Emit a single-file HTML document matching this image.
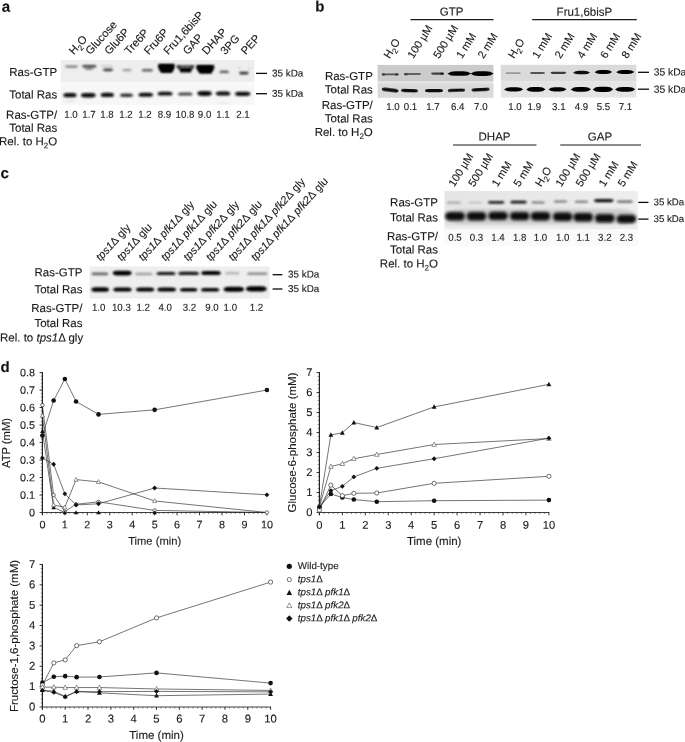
<!DOCTYPE html>
<html lang="en"><head><meta charset="utf-8"><title>Figure</title>
<style>
html,body{margin:0;padding:0;background:#fff;}
svg{display:block;}
text{font-family:'Liberation Sans', Arial, Helvetica, sans-serif;stroke:#1a1a1a;stroke-width:0.12px;}
</style></head>
<body>
<svg width="685" height="742" viewBox="0 0 685 742">
<defs>
<linearGradient id="gb" x1="0" x2="1" y1="0" y2="0"><stop offset="0" stop-color="#e5e5e5"/><stop offset="0.6" stop-color="#e9e9e9"/><stop offset="1" stop-color="#efefef"/></linearGradient>
<filter id="b1" x="-20%" y="-100%" width="140%" height="300%"><feGaussianBlur stdDeviation="1.0"/></filter>
<filter id="b07" x="-20%" y="-100%" width="140%" height="300%"><feGaussianBlur stdDeviation="0.75"/></filter>
<filter id="b09" x="-20%" y="-100%" width="140%" height="300%"><feGaussianBlur stdDeviation="0.9"/></filter>
<filter id="b15" x="-20%" y="-50%" width="140%" height="200%"><feGaussianBlur stdDeviation="1.4"/></filter>
</defs>
<rect width="685" height="742" fill="#ffffff"/>
<text x="0" y="0" transform="translate(1.70 11.80) rotate(0.04)" font-size="15.2" text-anchor="start" font-weight="bold" font-style="normal" fill="#111" >a</text>
<text x="0" y="0" transform="translate(315.30 11.50) rotate(0.04)" font-size="15" text-anchor="start" font-weight="bold" font-style="normal" fill="#111" >b</text>
<text x="0" y="0" transform="translate(0.60 178.30) rotate(0.04)" font-size="15.2" text-anchor="start" font-weight="bold" font-style="normal" fill="#111" >c</text>
<text x="0" y="0" transform="translate(0.50 372.10) rotate(0.04)" font-size="15" text-anchor="start" font-weight="bold" font-style="normal" fill="#111" >d</text>
<text x="0" y="0" transform="translate(57.20 76.00) rotate(0.04)" font-size="11.5" text-anchor="end" font-weight="normal" font-style="normal" fill="#1a1a1a" >Ras-GTP</text>
<text x="0" y="0" transform="translate(57.20 98.50) rotate(0.04)" font-size="11.5" text-anchor="end" font-weight="normal" font-style="normal" fill="#1a1a1a" >Total Ras</text>
<text x="0" y="0" transform="translate(57.20 118.70) rotate(0.04)" font-size="11.5" text-anchor="end" font-weight="normal" font-style="normal" fill="#1a1a1a" >Ras-GTP/</text>
<text x="0" y="0" transform="translate(57.20 131.80) rotate(0.04)" font-size="11.5" text-anchor="end" font-weight="normal" font-style="normal" fill="#1a1a1a" >Total Ras</text>
<text x="0" y="0" transform="translate(57.20 145.30) rotate(0.04)" font-size="11.5" text-anchor="end" font-weight="normal" font-style="normal" fill="#1a1a1a" >Rel. to H<tspan font-size="8.0" dy="3.0">2</tspan><tspan dy="-3.0">O</tspan></text>
<rect x="60.60" y="60.00" width="193.80" height="22.00" fill="#eeeeee" />
<rect x="60.60" y="82.00" width="193.80" height="2.50" fill="#f9f9f9" />
<rect x="60.60" y="84.50" width="193.80" height="20.30" fill="#f7f7f7" />
<rect x="65.00" y="65.50" width="13.00" height="2.20" rx="2.20" ry="1.10" fill="#666" opacity="0.85" filter="url(#b09)"/>
<rect x="82.00" y="65.00" width="14.50" height="2.40" rx="2.40" ry="1.20" fill="#333" opacity="0.95" filter="url(#b09)"/>
<rect x="85.00" y="67.60" width="8.00" height="2.00" rx="2.00" ry="1.00" fill="#444" opacity="0.85" filter="url(#b09)"/>
<rect x="101.00" y="65.60" width="12.00" height="1.20" rx="1.20" ry="0.60" fill="#999" opacity="0.6" filter="url(#b09)"/>
<rect x="103.00" y="68.50" width="10.00" height="2.80" rx="2.80" ry="1.40" fill="#333" opacity="0.95" filter="url(#b09)"/>
<rect x="122.40" y="69.10" width="9.20" height="2.20" rx="2.20" ry="1.10" fill="#888" opacity="0.85" filter="url(#b09)"/>
<rect x="141.60" y="69.00" width="11.40" height="2.40" rx="2.40" ry="1.20" fill="#555" opacity="0.95" filter="url(#b09)"/>
<path d="M158.20 64.00 L174.60 64.00 L174.80 67.60 L172.00 72.80 L161.00 72.80 L158.00 67.60 Z" fill="#000" opacity="1.0" filter="url(#b09)"/>
<path d="M159.50 64.80 L173.50 64.80 L171.50 71.80 L161.50 71.80 Z" fill="#000" opacity="1.0" filter="url(#b09)"/>
<rect x="176.50" y="65.40" width="17.50" height="1.80" rx="1.80" ry="0.90" fill="#111" opacity="1" filter="url(#b09)"/>
<path d="M178.60 67.60 L192.40 67.60 L191.00 72.50 L180.40 72.50 Z" fill="#000" opacity="1.0" filter="url(#b09)"/>
<path d="M176.80 65.80 L179.50 65.80 L180.50 69.00 L178.00 69.00 Z" fill="#111" opacity="0.8" filter="url(#b09)"/>
<path d="M191.50 65.80 L194.00 65.80 L192.80 69.00 L190.50 69.00 Z" fill="#111" opacity="0.8" filter="url(#b09)"/>
<path d="M196.20 65.00 L214.20 65.00 L214.20 68.20 L211.50 73.60 L199.50 73.60 L196.20 68.20 Z" fill="#000" opacity="1.0" filter="url(#b09)"/>
<path d="M198.00 66.00 L212.50 66.00 L210.50 72.60 L200.50 72.60 Z" fill="#000" opacity="1.0" filter="url(#b09)"/>
<rect x="219.40" y="70.70" width="9.60" height="2.40" rx="2.40" ry="1.20" fill="#444" opacity="0.95" filter="url(#b09)"/>
<rect x="239.00" y="71.70" width="9.80" height="2.80" rx="2.80" ry="1.40" fill="#222" opacity="0.95" filter="url(#b09)"/>
<rect x="238.00" y="67.40" width="3.00" height="1.20" rx="1.20" ry="0.60" fill="#999" opacity="0.6" filter="url(#b09)"/>
<rect x="248.00" y="67.90" width="3.00" height="1.20" rx="1.20" ry="0.60" fill="#999" opacity="0.6" filter="url(#b09)"/>
<rect x="63.40" y="93.10" width="13.10" height="4.20" rx="4.20" ry="2.10" fill="#080808" opacity="1" filter="url(#b09)"/>
<rect x="81.00" y="93.00" width="14.60" height="4.40" rx="4.40" ry="2.20" fill="#080808" opacity="1" filter="url(#b09)"/>
<rect x="100.70" y="92.80" width="13.30" height="4.20" rx="4.20" ry="2.10" fill="#0a0a0a" opacity="1" filter="url(#b09)"/>
<rect x="120.00" y="93.50" width="13.00" height="3.40" rx="3.40" ry="1.70" fill="#333" opacity="1" filter="url(#b09)"/>
<rect x="138.50" y="92.70" width="14.50" height="4.00" rx="4.00" ry="2.00" fill="#111" opacity="1" filter="url(#b09)"/>
<rect x="157.70" y="91.80" width="14.80" height="3.80" rx="3.80" ry="1.90" fill="#111" opacity="1" filter="url(#b09)"/>
<rect x="178.00" y="92.40" width="14.50" height="3.20" rx="3.20" ry="1.60" fill="#444" opacity="1" filter="url(#b09)"/>
<rect x="197.40" y="91.10" width="14.40" height="4.80" rx="4.80" ry="2.40" fill="#111" opacity="1" filter="url(#b09)"/>
<rect x="215.80" y="91.50" width="14.50" height="4.00" rx="4.00" ry="2.00" fill="#0a0a0a" opacity="1" filter="url(#b09)"/>
<rect x="235.00" y="91.70" width="15.40" height="4.20" rx="4.20" ry="2.10" fill="#0a0a0a" opacity="1" filter="url(#b09)"/>
<rect x="65.00" y="100.80" width="10.00" height="1.00" rx="1.00" ry="0.50" fill="#bbb" opacity="0.6" filter="url(#b09)"/>
<rect x="218.00" y="102.50" width="11.00" height="1.00" rx="1.00" ry="0.50" fill="#ccc" opacity="0.6" filter="url(#b09)"/>
<line x1="256.00" y1="73.40" x2="267.00" y2="73.40" stroke="#0a0a0a" stroke-width="1.3"/>
<text x="0" y="0" transform="translate(272.00 76.50) rotate(0.04)" font-size="9.9" text-anchor="start" font-weight="normal" font-style="normal" fill="#1a1a1a" >35 kDa</text>
<line x1="256.00" y1="93.70" x2="267.00" y2="93.70" stroke="#0a0a0a" stroke-width="1.3"/>
<text x="0" y="0" transform="translate(272.00 96.70) rotate(0.04)" font-size="9.9" text-anchor="start" font-weight="normal" font-style="normal" fill="#1a1a1a" >35 kDa</text>
<text transform="translate(71.00 117.70) scale(0.97 1) rotate(0.05)" font-size="10.0" text-anchor="middle" fill="#1a1a1a" stroke-width="0.12">1.0</text>
<text transform="translate(89.00 117.70) scale(0.97 1) rotate(0.05)" font-size="10.0" text-anchor="middle" fill="#1a1a1a" stroke-width="0.12">1.7</text>
<text transform="translate(107.00 117.70) scale(0.97 1) rotate(0.05)" font-size="10.0" text-anchor="middle" fill="#1a1a1a" stroke-width="0.12">1.8</text>
<text transform="translate(126.00 117.70) scale(0.97 1) rotate(0.05)" font-size="10.0" text-anchor="middle" fill="#1a1a1a" stroke-width="0.12">1.2</text>
<text transform="translate(145.00 117.70) scale(0.97 1) rotate(0.05)" font-size="10.0" text-anchor="middle" fill="#1a1a1a" stroke-width="0.12">1.2</text>
<text transform="translate(164.50 117.70) scale(0.97 1) rotate(0.05)" font-size="10.0" text-anchor="middle" fill="#1a1a1a" stroke-width="0.12">8.9</text>
<text transform="translate(185.00 117.70) scale(0.97 1) rotate(0.05)" font-size="10.0" text-anchor="middle" fill="#1a1a1a" stroke-width="0.12">10.8</text>
<text transform="translate(204.60 117.70) scale(0.97 1) rotate(0.05)" font-size="10.0" text-anchor="middle" fill="#1a1a1a" stroke-width="0.12">9.0</text>
<text transform="translate(223.00 117.70) scale(0.97 1) rotate(0.05)" font-size="10.0" text-anchor="middle" fill="#1a1a1a" stroke-width="0.12">1.1</text>
<text transform="translate(243.00 117.70) scale(0.97 1) rotate(0.05)" font-size="10.0" text-anchor="middle" fill="#1a1a1a" stroke-width="0.12">2.1</text>
<text x="0" y="0" transform="translate(73.80 55.30) rotate(-48)" font-size="11.1" text-anchor="start" font-weight="normal" font-style="normal" fill="#1a1a1a" >H<tspan font-size="7.8" dy="2.9">2</tspan><tspan dy="-2.9">O</tspan></text>
<text x="0" y="0" transform="translate(90.30 55.30) rotate(-48)" font-size="11.1" text-anchor="start" font-weight="normal" font-style="normal" fill="#1a1a1a" >Glucose</text>
<text x="0" y="0" transform="translate(109.30 55.30) rotate(-48)" font-size="11.1" text-anchor="start" font-weight="normal" font-style="normal" fill="#1a1a1a" >Glu6P</text>
<text x="0" y="0" transform="translate(129.30 55.30) rotate(-48)" font-size="11.1" text-anchor="start" font-weight="normal" font-style="normal" fill="#1a1a1a" >Tre6P</text>
<text x="0" y="0" transform="translate(148.80 55.30) rotate(-48)" font-size="11.1" text-anchor="start" font-weight="normal" font-style="normal" fill="#1a1a1a" >Fru6P</text>
<text x="0" y="0" transform="translate(168.30 55.30) rotate(-48)" font-size="11.1" text-anchor="start" font-weight="normal" font-style="normal" fill="#1a1a1a" >Fru1,6bisP</text>
<text x="0" y="0" transform="translate(187.80 55.30) rotate(-48)" font-size="11.1" text-anchor="start" font-weight="normal" font-style="normal" fill="#1a1a1a" >GAP</text>
<text x="0" y="0" transform="translate(206.80 55.30) rotate(-48)" font-size="11.1" text-anchor="start" font-weight="normal" font-style="normal" fill="#1a1a1a" >DHAP</text>
<text x="0" y="0" transform="translate(225.30 55.30) rotate(-48)" font-size="11.1" text-anchor="start" font-weight="normal" font-style="normal" fill="#1a1a1a" >3PG</text>
<text x="0" y="0" transform="translate(245.80 55.30) rotate(-48)" font-size="11.1" text-anchor="start" font-weight="normal" font-style="normal" fill="#1a1a1a" >PEP</text>
<text x="0" y="0" transform="translate(372.80 80.00) rotate(0.04)" font-size="11.5" text-anchor="end" font-weight="normal" font-style="normal" fill="#1a1a1a" >Ras-GTP</text>
<text x="0" y="0" transform="translate(372.80 93.40) rotate(0.04)" font-size="11.5" text-anchor="end" font-weight="normal" font-style="normal" fill="#1a1a1a" >Total Ras</text>
<text x="0" y="0" transform="translate(372.80 109.10) rotate(0.04)" font-size="11.5" text-anchor="end" font-weight="normal" font-style="normal" fill="#1a1a1a" >Ras-GTP/</text>
<text x="0" y="0" transform="translate(372.80 122.40) rotate(0.04)" font-size="11.5" text-anchor="end" font-weight="normal" font-style="normal" fill="#1a1a1a" >Total Ras</text>
<text x="0" y="0" transform="translate(372.80 136.00) rotate(0.04)" font-size="11.5" text-anchor="end" font-weight="normal" font-style="normal" fill="#1a1a1a" >Rel. to H<tspan font-size="8.0" dy="3.0">2</tspan><tspan dy="-3.0">O</tspan></text>
<rect x="377.60" y="64.90" width="115.80" height="16.70" fill="#cbcbcb" />
<rect x="377.60" y="81.60" width="115.80" height="1.60" fill="#e4e4e4" />
<rect x="377.60" y="83.20" width="115.80" height="14.60" fill="#dadada" />
<rect x="381.80" y="73.50" width="16.70" height="1.80" rx="1.80" ry="0.90" fill="#444" opacity="0.9" filter="url(#b07)"/>
<rect x="381.80" y="73.20" width="3.20" height="2.40" rx="1.60" ry="1.20" fill="#333" opacity="0.9" filter="url(#b07)"/>
<rect x="395.00" y="73.20" width="3.50" height="2.40" rx="1.75" ry="1.20" fill="#333" opacity="0.9" filter="url(#b07)"/>
<rect x="404.00" y="73.10" width="17.00" height="1.80" rx="1.80" ry="0.90" fill="#555" opacity="0.9" filter="url(#b07)"/>
<rect x="404.00" y="73.00" width="4.00" height="2.40" rx="2.00" ry="1.20" fill="#444" opacity="0.9" filter="url(#b07)"/>
<path d="M447.40 73.70 L450.94 71.79 L455.66 71.25 L462.74 71.25 L467.46 71.79 L471.00 73.50 L467.46 75.39 L462.74 75.84 L455.66 75.84 L450.94 75.39 Z" fill="#050505" opacity="1.0" filter="url(#b07)"/>
<path d="M470.60 73.70 L474.05 71.71 L478.65 71.15 L485.55 71.15 L490.15 71.71 L493.60 73.50 L490.15 75.47 L485.55 75.94 L478.65 75.94 L474.05 75.47 Z" fill="#050505" opacity="1.0" filter="url(#b07)"/>
<rect x="431.00" y="72.50" width="13.00" height="2.20" rx="2.20" ry="1.10" fill="#333" opacity="0.9" filter="url(#b07)"/>
<rect x="440.00" y="72.50" width="4.00" height="2.60" rx="2.00" ry="1.30" fill="#222" opacity="0.9" filter="url(#b07)"/>
<rect x="381.80" y="88.20" width="16.70" height="3.60" rx="3.60" ry="1.80" fill="#0a0a0a" opacity="1" filter="url(#b07)" transform="rotate(7 390.15 90.00)"/>
<rect x="401.00" y="89.00" width="17.00" height="3.20" rx="3.20" ry="1.60" fill="#0a0a0a" opacity="1" filter="url(#b07)" transform="rotate(2 409.50 90.60)"/>
<rect x="425.00" y="89.00" width="18.00" height="3.20" rx="3.20" ry="1.60" fill="#0a0a0a" opacity="1" filter="url(#b07)"/>
<rect x="447.80" y="88.80" width="17.20" height="3.00" rx="3.00" ry="1.50" fill="#0a0a0a" opacity="1" filter="url(#b07)" transform="rotate(-2 456.40 90.30)"/>
<rect x="471.50" y="88.00" width="18.10" height="3.20" rx="3.20" ry="1.60" fill="#0a0a0a" opacity="1" filter="url(#b07)" transform="rotate(-3 480.55 89.60)"/>
<rect x="500.80" y="64.80" width="135.50" height="16.70" fill="#dadada" />
<rect x="500.80" y="81.50" width="135.50" height="16.00" fill="#e4e4e4" />
<rect x="505.50" y="72.30" width="15.20" height="1.80" rx="1.80" ry="0.90" fill="#888" opacity="0.8" filter="url(#b07)"/>
<rect x="530.00" y="71.90" width="15.00" height="2.20" rx="2.20" ry="1.10" fill="#444" opacity="0.9" filter="url(#b07)"/>
<rect x="550.60" y="71.70" width="15.60" height="2.20" rx="2.20" ry="1.10" fill="#333" opacity="0.95" filter="url(#b07)"/>
<path d="M573.00 72.70 L575.55 71.21 L578.95 70.80 L584.05 70.80 L587.45 71.21 L590.00 72.50 L587.45 73.93 L584.05 74.27 L578.95 74.27 L575.55 73.93 Z" fill="#101010" opacity="1.0" filter="url(#b07)"/>
<path d="M594.60 72.20 L597.24 70.56 L600.76 70.10 L606.04 70.10 L609.56 70.56 L612.20 72.00 L609.56 73.60 L606.04 73.98 L600.76 73.98 L597.24 73.60 Z" fill="#050505" opacity="1.0" filter="url(#b07)"/>
<path d="M616.20 72.20 L618.93 70.56 L622.57 70.10 L628.03 70.10 L631.67 70.56 L634.40 72.00 L631.67 73.60 L628.03 73.98 L622.57 73.98 L618.93 73.60 Z" fill="#050505" opacity="1.0" filter="url(#b07)"/>
<path d="M504.00 89.50 L506.89 87.78 L510.75 87.30 L516.54 87.30 L520.40 87.78 L523.30 89.30 L520.40 90.98 L516.54 91.38 L510.75 91.38 L506.89 90.98 Z" fill="#050505" opacity="1.0" filter="url(#b07)"/>
<path d="M526.20 89.50 L529.10 87.55 L532.96 87.00 L538.75 87.00 L542.61 87.55 L545.50 89.30 L542.61 91.23 L538.75 91.69 L532.96 91.69 L529.10 91.23 Z" fill="#050505" opacity="1.0" filter="url(#b07)"/>
<path d="M548.40 89.50 L551.12 87.70 L554.74 87.20 L560.17 87.20 L563.78 87.70 L566.50 89.30 L563.78 91.06 L560.17 91.48 L554.74 91.48 L551.12 91.06 Z" fill="#050505" opacity="1.0" filter="url(#b07)"/>
<path d="M570.70 89.50 L573.76 87.48 L577.84 86.90 L583.96 86.90 L588.04 87.48 L591.10 89.30 L588.04 91.32 L583.96 91.80 L577.84 91.80 L573.76 91.32 Z" fill="#050505" opacity="1.0" filter="url(#b07)"/>
<path d="M592.70 89.50 L595.79 87.32 L599.91 86.70 L606.09 86.70 L610.21 87.32 L613.30 89.30 L610.21 91.48 L606.09 92.00 L599.91 92.00 L595.79 91.48 Z" fill="#050505" opacity="1.0" filter="url(#b07)"/>
<path d="M615.00 89.50 L618.04 87.48 L622.11 86.90 L628.19 86.90 L632.25 87.48 L635.30 89.30 L632.25 91.32 L628.19 91.80 L622.11 91.80 L618.04 91.32 Z" fill="#050505" opacity="1.0" filter="url(#b07)"/>
<line x1="638.00" y1="72.30" x2="649.00" y2="72.30" stroke="#0a0a0a" stroke-width="1.3"/>
<text x="0" y="0" transform="translate(653.70 75.50) rotate(0.04)" font-size="10.3" text-anchor="start" font-weight="normal" font-style="normal" fill="#1a1a1a" >35 kDa</text>
<line x1="638.00" y1="89.20" x2="649.00" y2="89.20" stroke="#0a0a0a" stroke-width="1.3"/>
<text x="0" y="0" transform="translate(653.70 92.70) rotate(0.04)" font-size="10.3" text-anchor="start" font-weight="normal" font-style="normal" fill="#1a1a1a" >35 kDa</text>
<text transform="translate(393.00 110.00) scale(0.97 1) rotate(0.05)" font-size="10.0" text-anchor="middle" fill="#1a1a1a" stroke-width="0.12">1.0</text>
<text transform="translate(410.50 110.00) scale(0.97 1) rotate(0.05)" font-size="10.0" text-anchor="middle" fill="#1a1a1a" stroke-width="0.12">0.1</text>
<text transform="translate(433.00 110.00) scale(0.97 1) rotate(0.05)" font-size="10.0" text-anchor="middle" fill="#1a1a1a" stroke-width="0.12">1.7</text>
<text transform="translate(457.70 110.00) scale(0.97 1) rotate(0.05)" font-size="10.0" text-anchor="middle" fill="#1a1a1a" stroke-width="0.12">6.4</text>
<text transform="translate(480.80 110.00) scale(0.97 1) rotate(0.05)" font-size="10.0" text-anchor="middle" fill="#1a1a1a" stroke-width="0.12">7.0</text>
<text transform="translate(515.00 110.00) scale(0.97 1) rotate(0.05)" font-size="10.0" text-anchor="middle" fill="#1a1a1a" stroke-width="0.12">1.0</text>
<text transform="translate(534.30 110.00) scale(0.97 1) rotate(0.05)" font-size="10.0" text-anchor="middle" fill="#1a1a1a" stroke-width="0.12">1.9</text>
<text transform="translate(558.80 110.00) scale(0.97 1) rotate(0.05)" font-size="10.0" text-anchor="middle" fill="#1a1a1a" stroke-width="0.12">3.1</text>
<text transform="translate(581.40 110.00) scale(0.97 1) rotate(0.05)" font-size="10.0" text-anchor="middle" fill="#1a1a1a" stroke-width="0.12">4.9</text>
<text transform="translate(603.40 110.00) scale(0.97 1) rotate(0.05)" font-size="10.0" text-anchor="middle" fill="#1a1a1a" stroke-width="0.12">5.5</text>
<text transform="translate(625.40 110.00) scale(0.97 1) rotate(0.05)" font-size="10.0" text-anchor="middle" fill="#1a1a1a" stroke-width="0.12">7.1</text>
<text x="0" y="0" transform="translate(451.60 15.50) rotate(0.04)" font-size="11.5" text-anchor="middle" font-weight="normal" font-style="normal" fill="#1a1a1a" >GTP</text>
<line x1="410.50" y1="19.60" x2="493.50" y2="19.60" stroke="#1a1a1a" stroke-width="1.1"/>
<text x="0" y="0" transform="translate(584.40 15.80) rotate(0.04)" font-size="11.5" text-anchor="middle" font-weight="normal" font-style="normal" fill="#1a1a1a" >Fru1,6bisP</text>
<line x1="532.20" y1="19.60" x2="636.80" y2="19.60" stroke="#1a1a1a" stroke-width="1.1"/>
<text x="0" y="0" transform="translate(389.50 59.30) rotate(-58)" font-size="11" text-anchor="start" font-weight="normal" font-style="normal" fill="#1a1a1a" >H<tspan font-size="8.0" dy="3.0">2</tspan><tspan dy="-3.0">O</tspan></text>
<text x="0" y="0" transform="translate(413.30 59.30) rotate(-58)" font-size="11" text-anchor="start" font-weight="normal" font-style="normal" fill="#1a1a1a" >100 µM</text>
<text x="0" y="0" transform="translate(439.00 59.30) rotate(-58)" font-size="11" text-anchor="start" font-weight="normal" font-style="normal" fill="#1a1a1a" >500 µM</text>
<text x="0" y="0" transform="translate(462.00 59.30) rotate(-58)" font-size="11" text-anchor="start" font-weight="normal" font-style="normal" fill="#1a1a1a" >1 mM</text>
<text x="0" y="0" transform="translate(483.50 59.30) rotate(-58)" font-size="11" text-anchor="start" font-weight="normal" font-style="normal" fill="#1a1a1a" >2 mM</text>
<text x="0" y="0" transform="translate(514.00 59.30) rotate(-58)" font-size="11" text-anchor="start" font-weight="normal" font-style="normal" fill="#1a1a1a" >H<tspan font-size="8.0" dy="3.0">2</tspan><tspan dy="-3.0">O</tspan></text>
<text x="0" y="0" transform="translate(538.00 59.30) rotate(-58)" font-size="11" text-anchor="start" font-weight="normal" font-style="normal" fill="#1a1a1a" >1 mM</text>
<text x="0" y="0" transform="translate(560.50 59.30) rotate(-58)" font-size="11" text-anchor="start" font-weight="normal" font-style="normal" fill="#1a1a1a" >2 mM</text>
<text x="0" y="0" transform="translate(583.00 59.30) rotate(-58)" font-size="11" text-anchor="start" font-weight="normal" font-style="normal" fill="#1a1a1a" >4 mM</text>
<text x="0" y="0" transform="translate(606.00 59.30) rotate(-58)" font-size="11" text-anchor="start" font-weight="normal" font-style="normal" fill="#1a1a1a" >6 mM</text>
<text x="0" y="0" transform="translate(627.30 59.30) rotate(-58)" font-size="11" text-anchor="start" font-weight="normal" font-style="normal" fill="#1a1a1a" >8 mM</text>
<text x="0" y="0" transform="translate(438.00 206.30) rotate(0.04)" font-size="11.5" text-anchor="end" font-weight="normal" font-style="normal" fill="#1a1a1a" >Ras-GTP</text>
<text x="0" y="0" transform="translate(438.00 221.40) rotate(0.04)" font-size="11.5" text-anchor="end" font-weight="normal" font-style="normal" fill="#1a1a1a" >Total Ras</text>
<text x="0" y="0" transform="translate(438.00 240.30) rotate(0.04)" font-size="11.5" text-anchor="end" font-weight="normal" font-style="normal" fill="#1a1a1a" >Ras-GTP/</text>
<text x="0" y="0" transform="translate(438.00 253.60) rotate(0.04)" font-size="11.5" text-anchor="end" font-weight="normal" font-style="normal" fill="#1a1a1a" >Total Ras</text>
<text x="0" y="0" transform="translate(438.00 267.50) rotate(0.04)" font-size="11.5" text-anchor="end" font-weight="normal" font-style="normal" fill="#1a1a1a" >Rel. to H<tspan font-size="8.0" dy="3.0">2</tspan><tspan dy="-3.0">O</tspan></text>
<rect x="444.50" y="191.00" width="193.50" height="35.00" fill="url(#gb)" />
<rect x="444.50" y="226.00" width="193.50" height="3.50" fill="#ededed" />
<rect x="444.50" y="229.50" width="193.50" height="16.50" fill="#fafafa" />
<rect x="446.60" y="201.70" width="14.40" height="1.80" rx="1.80" ry="0.90" fill="#888" opacity="0.8" filter="url(#b1)"/>
<rect x="468.50" y="201.80" width="13.50" height="1.60" rx="1.60" ry="0.80" fill="#aaa" opacity="0.7" filter="url(#b1)"/>
<rect x="487.90" y="201.10" width="16.50" height="2.60" rx="2.60" ry="1.30" fill="#222" opacity="1" filter="url(#b1)"/>
<rect x="510.30" y="200.80" width="16.50" height="2.80" rx="2.80" ry="1.40" fill="#111" opacity="1" filter="url(#b1)"/>
<rect x="531.30" y="201.40" width="13.50" height="2.00" rx="2.00" ry="1.00" fill="#666" opacity="0.9" filter="url(#b1)"/>
<rect x="553.70" y="200.50" width="13.50" height="2.00" rx="2.00" ry="1.00" fill="#666" opacity="0.9" filter="url(#b1)"/>
<rect x="574.70" y="200.70" width="13.50" height="2.00" rx="2.00" ry="1.00" fill="#666" opacity="0.9" filter="url(#b1)"/>
<rect x="594.00" y="199.00" width="19.60" height="3.20" rx="3.20" ry="1.60" fill="#0a0a0a" opacity="1" filter="url(#b1)"/>
<rect x="616.60" y="200.50" width="16.40" height="2.20" rx="2.20" ry="1.10" fill="#555" opacity="0.9" filter="url(#b1)"/>
<rect x="446.00" y="209.00" width="190.00" height="15.00" rx="15.00" ry="7.50" fill="#c4c4c4" opacity="0.8" filter="url(#b15)"/>
<rect x="445.20" y="212.00" width="19.60" height="8.40" rx="4.20" ry="4.20" fill="#0a0a0a" opacity="1" filter="url(#b15)"/>
<rect x="466.70" y="212.10" width="19.60" height="8.40" rx="4.20" ry="4.20" fill="#0a0a0a" opacity="1" filter="url(#b15)"/>
<rect x="488.20" y="211.70" width="19.60" height="8.40" rx="4.20" ry="4.20" fill="#0a0a0a" opacity="1" filter="url(#b15)"/>
<rect x="509.90" y="211.90" width="19.60" height="8.40" rx="4.20" ry="4.20" fill="#0a0a0a" opacity="1" filter="url(#b15)"/>
<rect x="530.70" y="212.10" width="19.60" height="8.40" rx="4.20" ry="4.20" fill="#0a0a0a" opacity="1" filter="url(#b15)"/>
<rect x="552.90" y="212.60" width="19.60" height="8.40" rx="4.20" ry="4.20" fill="#0a0a0a" opacity="1" filter="url(#b15)"/>
<rect x="573.40" y="213.00" width="19.60" height="8.40" rx="4.20" ry="4.20" fill="#0a0a0a" opacity="1" filter="url(#b15)"/>
<rect x="595.00" y="214.10" width="19.60" height="8.40" rx="4.20" ry="4.20" fill="#0a0a0a" opacity="1" filter="url(#b15)"/>
<rect x="616.60" y="214.80" width="19.60" height="8.40" rx="4.20" ry="4.20" fill="#0a0a0a" opacity="1" filter="url(#b15)"/>
<line x1="638.30" y1="202.40" x2="648.50" y2="202.40" stroke="#0a0a0a" stroke-width="1.3"/>
<text x="0" y="0" transform="translate(653.50 205.20) rotate(0.04)" font-size="9.7" text-anchor="start" font-weight="normal" font-style="normal" fill="#1a1a1a" >35 kDa</text>
<line x1="638.30" y1="219.10" x2="648.50" y2="219.10" stroke="#0a0a0a" stroke-width="1.3"/>
<text x="0" y="0" transform="translate(653.50 221.90) rotate(0.04)" font-size="9.7" text-anchor="start" font-weight="normal" font-style="normal" fill="#1a1a1a" >35 kDa</text>
<text transform="translate(455.00 240.70) scale(0.97 1) rotate(0.05)" font-size="10.0" text-anchor="middle" fill="#1a1a1a" stroke-width="0.12">0.5</text>
<text transform="translate(476.50 240.70) scale(0.97 1) rotate(0.05)" font-size="10.0" text-anchor="middle" fill="#1a1a1a" stroke-width="0.12">0.3</text>
<text transform="translate(498.00 240.70) scale(0.97 1) rotate(0.05)" font-size="10.0" text-anchor="middle" fill="#1a1a1a" stroke-width="0.12">1.4</text>
<text transform="translate(519.70 240.70) scale(0.97 1) rotate(0.05)" font-size="10.0" text-anchor="middle" fill="#1a1a1a" stroke-width="0.12">1.8</text>
<text transform="translate(540.50 240.70) scale(0.97 1) rotate(0.05)" font-size="10.0" text-anchor="middle" fill="#1a1a1a" stroke-width="0.12">1.0</text>
<text transform="translate(562.70 240.70) scale(0.97 1) rotate(0.05)" font-size="10.0" text-anchor="middle" fill="#1a1a1a" stroke-width="0.12">1.0</text>
<text transform="translate(583.20 240.70) scale(0.97 1) rotate(0.05)" font-size="10.0" text-anchor="middle" fill="#1a1a1a" stroke-width="0.12">1.1</text>
<text transform="translate(604.80 240.70) scale(0.97 1) rotate(0.05)" font-size="10.0" text-anchor="middle" fill="#1a1a1a" stroke-width="0.12">3.2</text>
<text transform="translate(626.40 240.70) scale(0.97 1) rotate(0.05)" font-size="10.0" text-anchor="middle" fill="#1a1a1a" stroke-width="0.12">2.3</text>
<text x="0" y="0" transform="translate(494.50 140.60) rotate(0.04)" font-size="11.5" text-anchor="middle" font-weight="normal" font-style="normal" fill="#1a1a1a" >DHAP</text>
<line x1="453.00" y1="145.00" x2="536.50" y2="145.00" stroke="#1a1a1a" stroke-width="1.1"/>
<text x="0" y="0" transform="translate(600.00 140.60) rotate(0.04)" font-size="11.5" text-anchor="middle" font-weight="normal" font-style="normal" fill="#1a1a1a" >GAP</text>
<line x1="560.20" y1="145.00" x2="641.00" y2="145.00" stroke="#1a1a1a" stroke-width="1.1"/>
<text x="0" y="0" transform="translate(454.20 187.50) rotate(-58)" font-size="11" text-anchor="start" font-weight="normal" font-style="normal" fill="#1a1a1a" >100 µM</text>
<text x="0" y="0" transform="translate(474.00 187.50) rotate(-58)" font-size="11" text-anchor="start" font-weight="normal" font-style="normal" fill="#1a1a1a" >500 µM</text>
<text x="0" y="0" transform="translate(497.50 187.50) rotate(-58)" font-size="11" text-anchor="start" font-weight="normal" font-style="normal" fill="#1a1a1a" >1 mM</text>
<text x="0" y="0" transform="translate(519.30 187.50) rotate(-58)" font-size="11" text-anchor="start" font-weight="normal" font-style="normal" fill="#1a1a1a" >5 mM</text>
<text x="0" y="0" transform="translate(541.00 187.50) rotate(-58)" font-size="11" text-anchor="start" font-weight="normal" font-style="normal" fill="#1a1a1a" >H<tspan font-size="8.0" dy="3.0">2</tspan><tspan dy="-3.0">O</tspan></text>
<text x="0" y="0" transform="translate(561.20 187.50) rotate(-58)" font-size="11" text-anchor="start" font-weight="normal" font-style="normal" fill="#1a1a1a" >100 µM</text>
<text x="0" y="0" transform="translate(581.50 187.50) rotate(-58)" font-size="11" text-anchor="start" font-weight="normal" font-style="normal" fill="#1a1a1a" >500 µM</text>
<text x="0" y="0" transform="translate(604.50 187.50) rotate(-58)" font-size="11" text-anchor="start" font-weight="normal" font-style="normal" fill="#1a1a1a" >1 mM</text>
<text x="0" y="0" transform="translate(623.50 187.50) rotate(-58)" font-size="11" text-anchor="start" font-weight="normal" font-style="normal" fill="#1a1a1a" >5 mM</text>
<text x="0" y="0" transform="translate(82.40 276.30) rotate(0.04)" font-size="11.5" text-anchor="end" font-weight="normal" font-style="normal" fill="#1a1a1a" >Ras-GTP</text>
<text x="0" y="0" transform="translate(82.40 293.30) rotate(0.04)" font-size="11.5" text-anchor="end" font-weight="normal" font-style="normal" fill="#1a1a1a" >Total Ras</text>
<text x="0" y="0" transform="translate(82.40 312.00) rotate(0.04)" font-size="11.5" text-anchor="end" font-weight="normal" font-style="normal" fill="#1a1a1a" >Ras-GTP/</text>
<text x="0" y="0" transform="translate(82.40 327.00) rotate(0.04)" font-size="11.5" text-anchor="end" font-weight="normal" font-style="normal" fill="#1a1a1a" >Total Ras</text>
<text x="0" y="0" transform="translate(0.00 341.40) rotate(0.04)" font-size="11.5" text-anchor="start" font-weight="normal" font-style="normal" fill="#1a1a1a" >Rel. to <tspan font-style="italic">tps1</tspan>Δ gly</text>
<rect x="89.40" y="266.40" width="180.20" height="32.20" fill="#eeeeee" />
<rect x="91.40" y="272.60" width="17.00" height="2.60" rx="2.60" ry="1.30" fill="#555" opacity="0.9" filter="url(#b09)"/>
<rect x="112.70" y="270.80" width="19.00" height="4.60" rx="4.60" ry="2.30" fill="#000" opacity="1" filter="url(#b09)"/>
<rect x="135.00" y="272.70" width="17.70" height="2.60" rx="2.60" ry="1.30" fill="#888" opacity="0.8" filter="url(#b09)"/>
<rect x="156.50" y="271.90" width="19.00" height="3.20" rx="3.20" ry="1.60" fill="#111" opacity="1" filter="url(#b09)"/>
<rect x="178.40" y="271.80" width="20.50" height="3.20" rx="3.20" ry="1.60" fill="#111" opacity="1" filter="url(#b09)"/>
<rect x="201.20" y="270.90" width="19.60" height="4.20" rx="4.20" ry="2.10" fill="#000" opacity="1" filter="url(#b09)"/>
<rect x="225.00" y="272.10" width="14.70" height="2.40" rx="2.40" ry="1.20" fill="#999" opacity="0.7" filter="url(#b09)"/>
<rect x="247.00" y="272.40" width="20.50" height="2.60" rx="2.60" ry="1.30" fill="#777" opacity="0.85" filter="url(#b09)"/>
<rect x="91.40" y="287.20" width="17.60" height="4.60" rx="4.60" ry="2.30" fill="#050505" opacity="1" filter="url(#b09)"/>
<rect x="113.30" y="287.40" width="18.40" height="4.20" rx="4.20" ry="2.10" fill="#050505" opacity="1" filter="url(#b09)"/>
<rect x="136.00" y="287.40" width="18.20" height="4.20" rx="4.20" ry="2.10" fill="#050505" opacity="1" filter="url(#b09)"/>
<rect x="157.40" y="287.40" width="18.60" height="4.20" rx="4.20" ry="2.10" fill="#050505" opacity="1" filter="url(#b09)"/>
<rect x="180.00" y="287.90" width="17.40" height="3.60" rx="3.60" ry="1.80" fill="#050505" opacity="1" filter="url(#b09)"/>
<rect x="201.00" y="288.00" width="18.30" height="3.60" rx="3.60" ry="1.80" fill="#050505" opacity="1" filter="url(#b09)"/>
<rect x="223.70" y="286.70" width="20.30" height="5.00" rx="5.00" ry="2.50" fill="#050505" opacity="1" filter="url(#b09)"/>
<rect x="246.00" y="286.20" width="20.60" height="5.20" rx="5.20" ry="2.60" fill="#050505" opacity="1" filter="url(#b09)"/>
<line x1="272.60" y1="274.70" x2="282.40" y2="274.70" stroke="#0a0a0a" stroke-width="1.3"/>
<text x="0" y="0" transform="translate(288.00 277.60) rotate(0.04)" font-size="9.9" text-anchor="start" font-weight="normal" font-style="normal" fill="#1a1a1a" >35 kDa</text>
<line x1="272.60" y1="289.00" x2="282.40" y2="289.00" stroke="#0a0a0a" stroke-width="1.3"/>
<text x="0" y="0" transform="translate(288.00 292.10) rotate(0.04)" font-size="9.9" text-anchor="start" font-weight="normal" font-style="normal" fill="#1a1a1a" >35 kDa</text>
<text transform="translate(98.70 310.70) scale(0.97 1) rotate(0.05)" font-size="10.0" text-anchor="middle" fill="#1a1a1a" stroke-width="0.12">1.0</text>
<text transform="translate(121.40 310.70) scale(0.97 1) rotate(0.05)" font-size="10.0" text-anchor="middle" fill="#1a1a1a" stroke-width="0.12">10.3</text>
<text transform="translate(143.20 310.70) scale(0.97 1) rotate(0.05)" font-size="10.0" text-anchor="middle" fill="#1a1a1a" stroke-width="0.12">1.2</text>
<text transform="translate(165.20 310.70) scale(0.97 1) rotate(0.05)" font-size="10.0" text-anchor="middle" fill="#1a1a1a" stroke-width="0.12">4.0</text>
<text transform="translate(189.40 310.70) scale(0.97 1) rotate(0.05)" font-size="10.0" text-anchor="middle" fill="#1a1a1a" stroke-width="0.12">3.2</text>
<text transform="translate(212.00 310.70) scale(0.97 1) rotate(0.05)" font-size="10.0" text-anchor="middle" fill="#1a1a1a" stroke-width="0.12">9.0</text>
<text transform="translate(230.30 310.70) scale(0.97 1) rotate(0.05)" font-size="10.0" text-anchor="middle" fill="#1a1a1a" stroke-width="0.12">1.0</text>
<text transform="translate(256.50 310.70) scale(0.97 1) rotate(0.05)" font-size="10.0" text-anchor="middle" fill="#1a1a1a" stroke-width="0.12">1.2</text>
<text x="0" y="0" transform="translate(100.50 261.50) rotate(-47.5)" font-size="11" text-anchor="start" font-weight="normal" font-style="italic" fill="#1a1a1a" >tps1<tspan font-style="normal">Δ</tspan> <tspan font-style="normal">gly</tspan></text>
<text x="0" y="0" transform="translate(121.50 261.50) rotate(-47.5)" font-size="11" text-anchor="start" font-weight="normal" font-style="italic" fill="#1a1a1a" >tps1<tspan font-style="normal">Δ</tspan> <tspan font-style="normal">glu</tspan></text>
<text x="0" y="0" transform="translate(143.00 261.50) rotate(-47.5)" font-size="11" text-anchor="start" font-weight="normal" font-style="italic" fill="#1a1a1a" >tps1<tspan font-style="normal">Δ</tspan> pfk1<tspan font-style="normal">Δ</tspan> <tspan font-style="normal">gly</tspan></text>
<text x="0" y="0" transform="translate(165.50 261.50) rotate(-47.5)" font-size="11" text-anchor="start" font-weight="normal" font-style="italic" fill="#1a1a1a" >tps1<tspan font-style="normal">Δ</tspan> pfk1<tspan font-style="normal">Δ</tspan> <tspan font-style="normal">glu</tspan></text>
<text x="0" y="0" transform="translate(188.00 261.50) rotate(-47.5)" font-size="11" text-anchor="start" font-weight="normal" font-style="italic" fill="#1a1a1a" >tps1<tspan font-style="normal">Δ</tspan> pfk2<tspan font-style="normal">Δ</tspan> <tspan font-style="normal">gly</tspan></text>
<text x="0" y="0" transform="translate(210.50 261.50) rotate(-47.5)" font-size="11" text-anchor="start" font-weight="normal" font-style="italic" fill="#1a1a1a" >tps1<tspan font-style="normal">Δ</tspan> pfk2<tspan font-style="normal">Δ</tspan> <tspan font-style="normal">glu</tspan></text>
<text x="0" y="0" transform="translate(233.00 261.50) rotate(-47.5)" font-size="11" text-anchor="start" font-weight="normal" font-style="italic" fill="#1a1a1a" >tps1<tspan font-style="normal">Δ</tspan> pfk1<tspan font-style="normal">Δ</tspan> pfk2<tspan font-style="normal">Δ</tspan> <tspan font-style="normal">gly</tspan></text>
<text x="0" y="0" transform="translate(255.50 261.50) rotate(-47.5)" font-size="11" text-anchor="start" font-weight="normal" font-style="italic" fill="#1a1a1a" >tps1<tspan font-style="normal">Δ</tspan> pfk1<tspan font-style="normal">Δ</tspan> pfk2<tspan font-style="normal">Δ</tspan> <tspan font-style="normal">glu</tspan></text>
<line x1="42.40" y1="372.08" x2="42.40" y2="515.30" stroke="#1a1a1a" stroke-width="1.15"/>
<line x1="39.60" y1="512.50" x2="267.40" y2="512.50" stroke="#2a2a2a" stroke-width="0.9"/>
<text x="0" y="0" transform="translate(35.00 516.19) rotate(0.04)" font-size="10.8" text-anchor="end" font-weight="normal" font-style="normal" fill="#1a1a1a" >0</text>
<line x1="40.80" y1="509.00" x2="42.40" y2="509.00" stroke="#333" stroke-width="0.6"/>
<line x1="40.80" y1="505.50" x2="42.40" y2="505.50" stroke="#333" stroke-width="0.6"/>
<line x1="40.80" y1="502.01" x2="42.40" y2="502.01" stroke="#333" stroke-width="0.6"/>
<line x1="40.80" y1="498.51" x2="42.40" y2="498.51" stroke="#333" stroke-width="0.6"/>
<line x1="39.60" y1="495.01" x2="42.40" y2="495.01" stroke="#1a1a1a" stroke-width="0.9"/>
<text x="0" y="0" transform="translate(35.00 498.70) rotate(0.04)" font-size="10.8" text-anchor="end" font-weight="normal" font-style="normal" fill="#1a1a1a" >0.1</text>
<line x1="40.80" y1="491.51" x2="42.40" y2="491.51" stroke="#333" stroke-width="0.6"/>
<line x1="40.80" y1="488.01" x2="42.40" y2="488.01" stroke="#333" stroke-width="0.6"/>
<line x1="40.80" y1="484.52" x2="42.40" y2="484.52" stroke="#333" stroke-width="0.6"/>
<line x1="40.80" y1="481.02" x2="42.40" y2="481.02" stroke="#333" stroke-width="0.6"/>
<line x1="39.60" y1="477.52" x2="42.40" y2="477.52" stroke="#1a1a1a" stroke-width="0.9"/>
<text x="0" y="0" transform="translate(35.00 481.21) rotate(0.04)" font-size="10.8" text-anchor="end" font-weight="normal" font-style="normal" fill="#1a1a1a" >0.2</text>
<line x1="40.80" y1="474.02" x2="42.40" y2="474.02" stroke="#333" stroke-width="0.6"/>
<line x1="40.80" y1="470.52" x2="42.40" y2="470.52" stroke="#333" stroke-width="0.6"/>
<line x1="40.80" y1="467.03" x2="42.40" y2="467.03" stroke="#333" stroke-width="0.6"/>
<line x1="40.80" y1="463.53" x2="42.40" y2="463.53" stroke="#333" stroke-width="0.6"/>
<line x1="39.60" y1="460.03" x2="42.40" y2="460.03" stroke="#1a1a1a" stroke-width="0.9"/>
<text x="0" y="0" transform="translate(35.00 463.72) rotate(0.04)" font-size="10.8" text-anchor="end" font-weight="normal" font-style="normal" fill="#1a1a1a" >0.3</text>
<line x1="40.80" y1="456.53" x2="42.40" y2="456.53" stroke="#333" stroke-width="0.6"/>
<line x1="40.80" y1="453.03" x2="42.40" y2="453.03" stroke="#333" stroke-width="0.6"/>
<line x1="40.80" y1="449.54" x2="42.40" y2="449.54" stroke="#333" stroke-width="0.6"/>
<line x1="40.80" y1="446.04" x2="42.40" y2="446.04" stroke="#333" stroke-width="0.6"/>
<line x1="39.60" y1="442.54" x2="42.40" y2="442.54" stroke="#1a1a1a" stroke-width="0.9"/>
<text x="0" y="0" transform="translate(35.00 446.23) rotate(0.04)" font-size="10.8" text-anchor="end" font-weight="normal" font-style="normal" fill="#1a1a1a" >0.4</text>
<line x1="40.80" y1="439.04" x2="42.40" y2="439.04" stroke="#333" stroke-width="0.6"/>
<line x1="40.80" y1="435.54" x2="42.40" y2="435.54" stroke="#333" stroke-width="0.6"/>
<line x1="40.80" y1="432.05" x2="42.40" y2="432.05" stroke="#333" stroke-width="0.6"/>
<line x1="40.80" y1="428.55" x2="42.40" y2="428.55" stroke="#333" stroke-width="0.6"/>
<line x1="39.60" y1="425.05" x2="42.40" y2="425.05" stroke="#1a1a1a" stroke-width="0.9"/>
<text x="0" y="0" transform="translate(35.00 428.74) rotate(0.04)" font-size="10.8" text-anchor="end" font-weight="normal" font-style="normal" fill="#1a1a1a" >0.5</text>
<line x1="40.80" y1="421.55" x2="42.40" y2="421.55" stroke="#333" stroke-width="0.6"/>
<line x1="40.80" y1="418.05" x2="42.40" y2="418.05" stroke="#333" stroke-width="0.6"/>
<line x1="40.80" y1="414.56" x2="42.40" y2="414.56" stroke="#333" stroke-width="0.6"/>
<line x1="40.80" y1="411.06" x2="42.40" y2="411.06" stroke="#333" stroke-width="0.6"/>
<line x1="39.60" y1="407.56" x2="42.40" y2="407.56" stroke="#1a1a1a" stroke-width="0.9"/>
<text x="0" y="0" transform="translate(35.00 411.25) rotate(0.04)" font-size="10.8" text-anchor="end" font-weight="normal" font-style="normal" fill="#1a1a1a" >0.6</text>
<line x1="40.80" y1="404.06" x2="42.40" y2="404.06" stroke="#333" stroke-width="0.6"/>
<line x1="40.80" y1="400.56" x2="42.40" y2="400.56" stroke="#333" stroke-width="0.6"/>
<line x1="40.80" y1="397.07" x2="42.40" y2="397.07" stroke="#333" stroke-width="0.6"/>
<line x1="40.80" y1="393.57" x2="42.40" y2="393.57" stroke="#333" stroke-width="0.6"/>
<line x1="39.60" y1="390.07" x2="42.40" y2="390.07" stroke="#1a1a1a" stroke-width="0.9"/>
<text x="0" y="0" transform="translate(35.00 393.76) rotate(0.04)" font-size="10.8" text-anchor="end" font-weight="normal" font-style="normal" fill="#1a1a1a" >0.7</text>
<line x1="40.80" y1="386.57" x2="42.40" y2="386.57" stroke="#333" stroke-width="0.6"/>
<line x1="40.80" y1="383.07" x2="42.40" y2="383.07" stroke="#333" stroke-width="0.6"/>
<line x1="40.80" y1="379.58" x2="42.40" y2="379.58" stroke="#333" stroke-width="0.6"/>
<line x1="40.80" y1="376.08" x2="42.40" y2="376.08" stroke="#333" stroke-width="0.6"/>
<line x1="39.60" y1="372.58" x2="42.40" y2="372.58" stroke="#1a1a1a" stroke-width="0.9"/>
<text x="0" y="0" transform="translate(35.00 376.27) rotate(0.04)" font-size="10.8" text-anchor="end" font-weight="normal" font-style="normal" fill="#1a1a1a" >0.8</text>
<text x="0" y="0" transform="translate(42.40 528.30) rotate(0.04)" font-size="10.8" text-anchor="middle" font-weight="normal" font-style="normal" fill="#1a1a1a" >0</text>
<line x1="46.89" y1="512.50" x2="46.89" y2="514.00" stroke="#333" stroke-width="0.6"/>
<line x1="51.38" y1="512.50" x2="51.38" y2="514.00" stroke="#333" stroke-width="0.6"/>
<line x1="55.87" y1="512.50" x2="55.87" y2="514.00" stroke="#333" stroke-width="0.6"/>
<line x1="60.36" y1="512.50" x2="60.36" y2="514.00" stroke="#333" stroke-width="0.6"/>
<line x1="64.85" y1="512.50" x2="64.85" y2="515.30" stroke="#1a1a1a" stroke-width="0.9"/>
<text x="0" y="0" transform="translate(64.85 528.30) rotate(0.04)" font-size="10.8" text-anchor="middle" font-weight="normal" font-style="normal" fill="#1a1a1a" >1</text>
<line x1="69.34" y1="512.50" x2="69.34" y2="514.00" stroke="#333" stroke-width="0.6"/>
<line x1="73.83" y1="512.50" x2="73.83" y2="514.00" stroke="#333" stroke-width="0.6"/>
<line x1="78.32" y1="512.50" x2="78.32" y2="514.00" stroke="#333" stroke-width="0.6"/>
<line x1="82.81" y1="512.50" x2="82.81" y2="514.00" stroke="#333" stroke-width="0.6"/>
<line x1="87.30" y1="512.50" x2="87.30" y2="515.30" stroke="#1a1a1a" stroke-width="0.9"/>
<text x="0" y="0" transform="translate(87.30 528.30) rotate(0.04)" font-size="10.8" text-anchor="middle" font-weight="normal" font-style="normal" fill="#1a1a1a" >2</text>
<line x1="91.79" y1="512.50" x2="91.79" y2="514.00" stroke="#333" stroke-width="0.6"/>
<line x1="96.28" y1="512.50" x2="96.28" y2="514.00" stroke="#333" stroke-width="0.6"/>
<line x1="100.77" y1="512.50" x2="100.77" y2="514.00" stroke="#333" stroke-width="0.6"/>
<line x1="105.26" y1="512.50" x2="105.26" y2="514.00" stroke="#333" stroke-width="0.6"/>
<line x1="109.75" y1="512.50" x2="109.75" y2="515.30" stroke="#1a1a1a" stroke-width="0.9"/>
<text x="0" y="0" transform="translate(109.75 528.30) rotate(0.04)" font-size="10.8" text-anchor="middle" font-weight="normal" font-style="normal" fill="#1a1a1a" >3</text>
<line x1="114.24" y1="512.50" x2="114.24" y2="514.00" stroke="#333" stroke-width="0.6"/>
<line x1="118.73" y1="512.50" x2="118.73" y2="514.00" stroke="#333" stroke-width="0.6"/>
<line x1="123.22" y1="512.50" x2="123.22" y2="514.00" stroke="#333" stroke-width="0.6"/>
<line x1="127.71" y1="512.50" x2="127.71" y2="514.00" stroke="#333" stroke-width="0.6"/>
<line x1="132.20" y1="512.50" x2="132.20" y2="515.30" stroke="#1a1a1a" stroke-width="0.9"/>
<text x="0" y="0" transform="translate(132.20 528.30) rotate(0.04)" font-size="10.8" text-anchor="middle" font-weight="normal" font-style="normal" fill="#1a1a1a" >4</text>
<line x1="136.69" y1="512.50" x2="136.69" y2="514.00" stroke="#333" stroke-width="0.6"/>
<line x1="141.18" y1="512.50" x2="141.18" y2="514.00" stroke="#333" stroke-width="0.6"/>
<line x1="145.67" y1="512.50" x2="145.67" y2="514.00" stroke="#333" stroke-width="0.6"/>
<line x1="150.16" y1="512.50" x2="150.16" y2="514.00" stroke="#333" stroke-width="0.6"/>
<line x1="154.65" y1="512.50" x2="154.65" y2="515.30" stroke="#1a1a1a" stroke-width="0.9"/>
<text x="0" y="0" transform="translate(154.65 528.30) rotate(0.04)" font-size="10.8" text-anchor="middle" font-weight="normal" font-style="normal" fill="#1a1a1a" >5</text>
<line x1="159.14" y1="512.50" x2="159.14" y2="514.00" stroke="#333" stroke-width="0.6"/>
<line x1="163.63" y1="512.50" x2="163.63" y2="514.00" stroke="#333" stroke-width="0.6"/>
<line x1="168.12" y1="512.50" x2="168.12" y2="514.00" stroke="#333" stroke-width="0.6"/>
<line x1="172.61" y1="512.50" x2="172.61" y2="514.00" stroke="#333" stroke-width="0.6"/>
<line x1="177.10" y1="512.50" x2="177.10" y2="515.30" stroke="#1a1a1a" stroke-width="0.9"/>
<text x="0" y="0" transform="translate(177.10 528.30) rotate(0.04)" font-size="10.8" text-anchor="middle" font-weight="normal" font-style="normal" fill="#1a1a1a" >6</text>
<line x1="181.59" y1="512.50" x2="181.59" y2="514.00" stroke="#333" stroke-width="0.6"/>
<line x1="186.08" y1="512.50" x2="186.08" y2="514.00" stroke="#333" stroke-width="0.6"/>
<line x1="190.57" y1="512.50" x2="190.57" y2="514.00" stroke="#333" stroke-width="0.6"/>
<line x1="195.06" y1="512.50" x2="195.06" y2="514.00" stroke="#333" stroke-width="0.6"/>
<line x1="199.55" y1="512.50" x2="199.55" y2="515.30" stroke="#1a1a1a" stroke-width="0.9"/>
<text x="0" y="0" transform="translate(199.55 528.30) rotate(0.04)" font-size="10.8" text-anchor="middle" font-weight="normal" font-style="normal" fill="#1a1a1a" >7</text>
<line x1="204.04" y1="512.50" x2="204.04" y2="514.00" stroke="#333" stroke-width="0.6"/>
<line x1="208.53" y1="512.50" x2="208.53" y2="514.00" stroke="#333" stroke-width="0.6"/>
<line x1="213.02" y1="512.50" x2="213.02" y2="514.00" stroke="#333" stroke-width="0.6"/>
<line x1="217.51" y1="512.50" x2="217.51" y2="514.00" stroke="#333" stroke-width="0.6"/>
<line x1="222.00" y1="512.50" x2="222.00" y2="515.30" stroke="#1a1a1a" stroke-width="0.9"/>
<text x="0" y="0" transform="translate(222.00 528.30) rotate(0.04)" font-size="10.8" text-anchor="middle" font-weight="normal" font-style="normal" fill="#1a1a1a" >8</text>
<line x1="226.49" y1="512.50" x2="226.49" y2="514.00" stroke="#333" stroke-width="0.6"/>
<line x1="230.98" y1="512.50" x2="230.98" y2="514.00" stroke="#333" stroke-width="0.6"/>
<line x1="235.47" y1="512.50" x2="235.47" y2="514.00" stroke="#333" stroke-width="0.6"/>
<line x1="239.96" y1="512.50" x2="239.96" y2="514.00" stroke="#333" stroke-width="0.6"/>
<line x1="244.45" y1="512.50" x2="244.45" y2="515.30" stroke="#1a1a1a" stroke-width="0.9"/>
<text x="0" y="0" transform="translate(244.45 528.30) rotate(0.04)" font-size="10.8" text-anchor="middle" font-weight="normal" font-style="normal" fill="#1a1a1a" >9</text>
<line x1="248.94" y1="512.50" x2="248.94" y2="514.00" stroke="#333" stroke-width="0.6"/>
<line x1="253.43" y1="512.50" x2="253.43" y2="514.00" stroke="#333" stroke-width="0.6"/>
<line x1="257.92" y1="512.50" x2="257.92" y2="514.00" stroke="#333" stroke-width="0.6"/>
<line x1="262.41" y1="512.50" x2="262.41" y2="514.00" stroke="#333" stroke-width="0.6"/>
<line x1="266.90" y1="512.50" x2="266.90" y2="515.30" stroke="#1a1a1a" stroke-width="0.9"/>
<text x="0" y="0" transform="translate(266.90 528.30) rotate(0.04)" font-size="10.8" text-anchor="middle" font-weight="normal" font-style="normal" fill="#1a1a1a" >10</text>
<polyline points="42.40,435.54 53.62,400.56 64.85,379.05 76.07,401.44 98.53,414.38 154.65,409.83 266.90,390.07" fill="none" stroke="#2a2a2a" stroke-width="0.65"/>
<polyline points="42.40,405.11 53.62,495.01 64.85,511.63 76.07,504.28 98.53,501.83 154.65,510.40 266.90,512.50" fill="none" stroke="#2a2a2a" stroke-width="0.65"/>
<polyline points="42.40,431.17 53.62,507.43 64.85,512.50" fill="none" stroke="#2a2a2a" stroke-width="0.65"/>
<polyline points="42.40,415.43 53.62,504.98 64.85,507.25 76.07,479.62 98.53,481.89 154.65,500.96 266.90,512.50" fill="none" stroke="#2a2a2a" stroke-width="0.65"/>
<polyline points="42.40,458.11 53.62,464.23 64.85,493.79 76.07,504.98 98.53,503.75 154.65,488.01 266.90,494.84" fill="none" stroke="#2a2a2a" stroke-width="0.65"/>
<circle cx="42.40" cy="435.54" r="2.30" fill="#111"/>
<circle cx="53.62" cy="400.56" r="2.30" fill="#111"/>
<circle cx="64.85" cy="379.05" r="2.30" fill="#111"/>
<circle cx="76.07" cy="401.44" r="2.30" fill="#111"/>
<circle cx="98.53" cy="414.38" r="2.30" fill="#111"/>
<circle cx="154.65" cy="409.83" r="2.30" fill="#111"/>
<circle cx="266.90" cy="390.07" r="2.30" fill="#111"/>
<circle cx="42.40" cy="405.11" r="1.72" fill="#fff" stroke="#333" stroke-width="0.7"/>
<circle cx="53.62" cy="495.01" r="1.72" fill="#fff" stroke="#333" stroke-width="0.7"/>
<circle cx="64.85" cy="511.63" r="1.72" fill="#fff" stroke="#333" stroke-width="0.7"/>
<circle cx="76.07" cy="504.28" r="1.72" fill="#fff" stroke="#333" stroke-width="0.7"/>
<circle cx="98.53" cy="501.83" r="1.72" fill="#fff" stroke="#333" stroke-width="0.7"/>
<circle cx="154.65" cy="510.40" r="1.72" fill="#fff" stroke="#333" stroke-width="0.7"/>
<circle cx="266.90" cy="512.50" r="1.72" fill="#fff" stroke="#333" stroke-width="0.7"/>
<path d="M40.24 432.88 L44.56 432.88 L42.40 428.83 Z" fill="#111"/>
<path d="M51.47 509.14 L55.78 509.14 L53.62 505.09 Z" fill="#111"/>
<path d="M62.69 514.21 L67.01 514.21 L64.85 510.16 Z" fill="#111"/>
<path d="M73.91 514.21 L78.23 514.21 L76.07 510.16 Z" fill="#111"/>
<path d="M96.37 514.21 L100.69 514.21 L98.53 510.16 Z" fill="#111"/>
<path d="M152.49 514.21 L156.81 514.21 L154.65 510.16 Z" fill="#111"/>
<path d="M40.33 417.05 L44.47 417.05 L42.40 413.18 Z" fill="#fff" stroke="#444" stroke-width="0.55"/>
<path d="M51.55 506.60 L55.70 506.60 L53.62 502.73 Z" fill="#fff" stroke="#444" stroke-width="0.55"/>
<path d="M62.78 508.87 L66.92 508.87 L64.85 505.00 Z" fill="#fff" stroke="#444" stroke-width="0.55"/>
<path d="M74.00 481.24 L78.14 481.24 L76.07 477.37 Z" fill="#fff" stroke="#444" stroke-width="0.55"/>
<path d="M96.46 483.51 L100.59 483.51 L98.53 479.64 Z" fill="#fff" stroke="#444" stroke-width="0.55"/>
<path d="M152.58 502.58 L156.72 502.58 L154.65 498.71 Z" fill="#fff" stroke="#444" stroke-width="0.55"/>
<path d="M40.00 458.11 L42.40 455.71 L44.80 458.11 L42.40 460.51 Z" fill="#111"/>
<path d="M51.23 464.23 L53.62 461.83 L56.02 464.23 L53.62 466.63 Z" fill="#111"/>
<path d="M62.45 493.79 L64.85 491.39 L67.25 493.79 L64.85 496.19 Z" fill="#111"/>
<path d="M73.67 504.98 L76.07 502.58 L78.47 504.98 L76.07 507.38 Z" fill="#111"/>
<path d="M96.12 503.75 L98.53 501.36 L100.93 503.75 L98.53 506.15 Z" fill="#111"/>
<path d="M152.25 488.01 L154.65 485.61 L157.05 488.01 L154.65 490.41 Z" fill="#111"/>
<path d="M264.50 494.84 L266.90 492.44 L269.30 494.84 L266.90 497.24 Z" fill="#111"/>
<text x="0" y="0" transform="translate(154.65 544.70) rotate(0.04)" font-size="11.2" text-anchor="middle" font-weight="normal" font-style="normal" fill="#1a1a1a" >Time (min)</text>
<text x="0" y="0" transform="translate(9.60 443.00) rotate(-90)" font-size="11.2" text-anchor="middle" font-weight="normal" font-style="normal" fill="#1a1a1a" >ATP (mM)</text>
<line x1="319.40" y1="372.07" x2="319.40" y2="515.30" stroke="#1a1a1a" stroke-width="1.15"/>
<line x1="316.60" y1="512.50" x2="549.40" y2="512.50" stroke="#2a2a2a" stroke-width="0.9"/>
<text x="0" y="0" transform="translate(312.40 516.03) rotate(0.04)" font-size="11.2" text-anchor="end" font-weight="normal" font-style="normal" fill="#1a1a1a" >0</text>
<line x1="317.80" y1="508.50" x2="319.40" y2="508.50" stroke="#333" stroke-width="0.6"/>
<line x1="317.80" y1="504.50" x2="319.40" y2="504.50" stroke="#333" stroke-width="0.6"/>
<line x1="317.80" y1="500.51" x2="319.40" y2="500.51" stroke="#333" stroke-width="0.6"/>
<line x1="317.80" y1="496.51" x2="319.40" y2="496.51" stroke="#333" stroke-width="0.6"/>
<line x1="316.60" y1="492.51" x2="319.40" y2="492.51" stroke="#1a1a1a" stroke-width="0.9"/>
<text x="0" y="0" transform="translate(312.40 496.04) rotate(0.04)" font-size="11.2" text-anchor="end" font-weight="normal" font-style="normal" fill="#1a1a1a" >1</text>
<line x1="317.80" y1="488.51" x2="319.40" y2="488.51" stroke="#333" stroke-width="0.6"/>
<line x1="317.80" y1="484.51" x2="319.40" y2="484.51" stroke="#333" stroke-width="0.6"/>
<line x1="317.80" y1="480.52" x2="319.40" y2="480.52" stroke="#333" stroke-width="0.6"/>
<line x1="317.80" y1="476.52" x2="319.40" y2="476.52" stroke="#333" stroke-width="0.6"/>
<line x1="316.60" y1="472.52" x2="319.40" y2="472.52" stroke="#1a1a1a" stroke-width="0.9"/>
<text x="0" y="0" transform="translate(312.40 476.05) rotate(0.04)" font-size="11.2" text-anchor="end" font-weight="normal" font-style="normal" fill="#1a1a1a" >2</text>
<line x1="317.80" y1="468.52" x2="319.40" y2="468.52" stroke="#333" stroke-width="0.6"/>
<line x1="317.80" y1="464.52" x2="319.40" y2="464.52" stroke="#333" stroke-width="0.6"/>
<line x1="317.80" y1="460.53" x2="319.40" y2="460.53" stroke="#333" stroke-width="0.6"/>
<line x1="317.80" y1="456.53" x2="319.40" y2="456.53" stroke="#333" stroke-width="0.6"/>
<line x1="316.60" y1="452.53" x2="319.40" y2="452.53" stroke="#1a1a1a" stroke-width="0.9"/>
<text x="0" y="0" transform="translate(312.40 456.06) rotate(0.04)" font-size="11.2" text-anchor="end" font-weight="normal" font-style="normal" fill="#1a1a1a" >3</text>
<line x1="317.80" y1="448.53" x2="319.40" y2="448.53" stroke="#333" stroke-width="0.6"/>
<line x1="317.80" y1="444.53" x2="319.40" y2="444.53" stroke="#333" stroke-width="0.6"/>
<line x1="317.80" y1="440.54" x2="319.40" y2="440.54" stroke="#333" stroke-width="0.6"/>
<line x1="317.80" y1="436.54" x2="319.40" y2="436.54" stroke="#333" stroke-width="0.6"/>
<line x1="316.60" y1="432.54" x2="319.40" y2="432.54" stroke="#1a1a1a" stroke-width="0.9"/>
<text x="0" y="0" transform="translate(312.40 436.07) rotate(0.04)" font-size="11.2" text-anchor="end" font-weight="normal" font-style="normal" fill="#1a1a1a" >4</text>
<line x1="317.80" y1="428.54" x2="319.40" y2="428.54" stroke="#333" stroke-width="0.6"/>
<line x1="317.80" y1="424.54" x2="319.40" y2="424.54" stroke="#333" stroke-width="0.6"/>
<line x1="317.80" y1="420.55" x2="319.40" y2="420.55" stroke="#333" stroke-width="0.6"/>
<line x1="317.80" y1="416.55" x2="319.40" y2="416.55" stroke="#333" stroke-width="0.6"/>
<line x1="316.60" y1="412.55" x2="319.40" y2="412.55" stroke="#1a1a1a" stroke-width="0.9"/>
<text x="0" y="0" transform="translate(312.40 416.08) rotate(0.04)" font-size="11.2" text-anchor="end" font-weight="normal" font-style="normal" fill="#1a1a1a" >5</text>
<line x1="317.80" y1="408.55" x2="319.40" y2="408.55" stroke="#333" stroke-width="0.6"/>
<line x1="317.80" y1="404.55" x2="319.40" y2="404.55" stroke="#333" stroke-width="0.6"/>
<line x1="317.80" y1="400.56" x2="319.40" y2="400.56" stroke="#333" stroke-width="0.6"/>
<line x1="317.80" y1="396.56" x2="319.40" y2="396.56" stroke="#333" stroke-width="0.6"/>
<line x1="316.60" y1="392.56" x2="319.40" y2="392.56" stroke="#1a1a1a" stroke-width="0.9"/>
<text x="0" y="0" transform="translate(312.40 396.09) rotate(0.04)" font-size="11.2" text-anchor="end" font-weight="normal" font-style="normal" fill="#1a1a1a" >6</text>
<line x1="317.80" y1="388.56" x2="319.40" y2="388.56" stroke="#333" stroke-width="0.6"/>
<line x1="317.80" y1="384.56" x2="319.40" y2="384.56" stroke="#333" stroke-width="0.6"/>
<line x1="317.80" y1="380.57" x2="319.40" y2="380.57" stroke="#333" stroke-width="0.6"/>
<line x1="317.80" y1="376.57" x2="319.40" y2="376.57" stroke="#333" stroke-width="0.6"/>
<line x1="316.60" y1="372.57" x2="319.40" y2="372.57" stroke="#1a1a1a" stroke-width="0.9"/>
<text x="0" y="0" transform="translate(312.40 376.10) rotate(0.04)" font-size="11.2" text-anchor="end" font-weight="normal" font-style="normal" fill="#1a1a1a" >7</text>
<text x="0" y="0" transform="translate(319.40 528.70) rotate(0.04)" font-size="11.2" text-anchor="middle" font-weight="normal" font-style="normal" fill="#1a1a1a" >0</text>
<line x1="323.99" y1="512.50" x2="323.99" y2="514.00" stroke="#333" stroke-width="0.6"/>
<line x1="328.58" y1="512.50" x2="328.58" y2="514.00" stroke="#333" stroke-width="0.6"/>
<line x1="333.17" y1="512.50" x2="333.17" y2="514.00" stroke="#333" stroke-width="0.6"/>
<line x1="337.76" y1="512.50" x2="337.76" y2="514.00" stroke="#333" stroke-width="0.6"/>
<line x1="342.35" y1="512.50" x2="342.35" y2="515.30" stroke="#1a1a1a" stroke-width="0.9"/>
<text x="0" y="0" transform="translate(342.35 528.70) rotate(0.04)" font-size="11.2" text-anchor="middle" font-weight="normal" font-style="normal" fill="#1a1a1a" >1</text>
<line x1="346.94" y1="512.50" x2="346.94" y2="514.00" stroke="#333" stroke-width="0.6"/>
<line x1="351.53" y1="512.50" x2="351.53" y2="514.00" stroke="#333" stroke-width="0.6"/>
<line x1="356.12" y1="512.50" x2="356.12" y2="514.00" stroke="#333" stroke-width="0.6"/>
<line x1="360.71" y1="512.50" x2="360.71" y2="514.00" stroke="#333" stroke-width="0.6"/>
<line x1="365.30" y1="512.50" x2="365.30" y2="515.30" stroke="#1a1a1a" stroke-width="0.9"/>
<text x="0" y="0" transform="translate(365.30 528.70) rotate(0.04)" font-size="11.2" text-anchor="middle" font-weight="normal" font-style="normal" fill="#1a1a1a" >2</text>
<line x1="369.89" y1="512.50" x2="369.89" y2="514.00" stroke="#333" stroke-width="0.6"/>
<line x1="374.48" y1="512.50" x2="374.48" y2="514.00" stroke="#333" stroke-width="0.6"/>
<line x1="379.07" y1="512.50" x2="379.07" y2="514.00" stroke="#333" stroke-width="0.6"/>
<line x1="383.66" y1="512.50" x2="383.66" y2="514.00" stroke="#333" stroke-width="0.6"/>
<line x1="388.25" y1="512.50" x2="388.25" y2="515.30" stroke="#1a1a1a" stroke-width="0.9"/>
<text x="0" y="0" transform="translate(388.25 528.70) rotate(0.04)" font-size="11.2" text-anchor="middle" font-weight="normal" font-style="normal" fill="#1a1a1a" >3</text>
<line x1="392.84" y1="512.50" x2="392.84" y2="514.00" stroke="#333" stroke-width="0.6"/>
<line x1="397.43" y1="512.50" x2="397.43" y2="514.00" stroke="#333" stroke-width="0.6"/>
<line x1="402.02" y1="512.50" x2="402.02" y2="514.00" stroke="#333" stroke-width="0.6"/>
<line x1="406.61" y1="512.50" x2="406.61" y2="514.00" stroke="#333" stroke-width="0.6"/>
<line x1="411.20" y1="512.50" x2="411.20" y2="515.30" stroke="#1a1a1a" stroke-width="0.9"/>
<text x="0" y="0" transform="translate(411.20 528.70) rotate(0.04)" font-size="11.2" text-anchor="middle" font-weight="normal" font-style="normal" fill="#1a1a1a" >4</text>
<line x1="415.79" y1="512.50" x2="415.79" y2="514.00" stroke="#333" stroke-width="0.6"/>
<line x1="420.38" y1="512.50" x2="420.38" y2="514.00" stroke="#333" stroke-width="0.6"/>
<line x1="424.97" y1="512.50" x2="424.97" y2="514.00" stroke="#333" stroke-width="0.6"/>
<line x1="429.56" y1="512.50" x2="429.56" y2="514.00" stroke="#333" stroke-width="0.6"/>
<line x1="434.15" y1="512.50" x2="434.15" y2="515.30" stroke="#1a1a1a" stroke-width="0.9"/>
<text x="0" y="0" transform="translate(434.15 528.70) rotate(0.04)" font-size="11.2" text-anchor="middle" font-weight="normal" font-style="normal" fill="#1a1a1a" >5</text>
<line x1="438.74" y1="512.50" x2="438.74" y2="514.00" stroke="#333" stroke-width="0.6"/>
<line x1="443.33" y1="512.50" x2="443.33" y2="514.00" stroke="#333" stroke-width="0.6"/>
<line x1="447.92" y1="512.50" x2="447.92" y2="514.00" stroke="#333" stroke-width="0.6"/>
<line x1="452.51" y1="512.50" x2="452.51" y2="514.00" stroke="#333" stroke-width="0.6"/>
<line x1="457.10" y1="512.50" x2="457.10" y2="515.30" stroke="#1a1a1a" stroke-width="0.9"/>
<text x="0" y="0" transform="translate(457.10 528.70) rotate(0.04)" font-size="11.2" text-anchor="middle" font-weight="normal" font-style="normal" fill="#1a1a1a" >6</text>
<line x1="461.69" y1="512.50" x2="461.69" y2="514.00" stroke="#333" stroke-width="0.6"/>
<line x1="466.28" y1="512.50" x2="466.28" y2="514.00" stroke="#333" stroke-width="0.6"/>
<line x1="470.87" y1="512.50" x2="470.87" y2="514.00" stroke="#333" stroke-width="0.6"/>
<line x1="475.46" y1="512.50" x2="475.46" y2="514.00" stroke="#333" stroke-width="0.6"/>
<line x1="480.05" y1="512.50" x2="480.05" y2="515.30" stroke="#1a1a1a" stroke-width="0.9"/>
<text x="0" y="0" transform="translate(480.05 528.70) rotate(0.04)" font-size="11.2" text-anchor="middle" font-weight="normal" font-style="normal" fill="#1a1a1a" >7</text>
<line x1="484.64" y1="512.50" x2="484.64" y2="514.00" stroke="#333" stroke-width="0.6"/>
<line x1="489.23" y1="512.50" x2="489.23" y2="514.00" stroke="#333" stroke-width="0.6"/>
<line x1="493.82" y1="512.50" x2="493.82" y2="514.00" stroke="#333" stroke-width="0.6"/>
<line x1="498.41" y1="512.50" x2="498.41" y2="514.00" stroke="#333" stroke-width="0.6"/>
<line x1="503.00" y1="512.50" x2="503.00" y2="515.30" stroke="#1a1a1a" stroke-width="0.9"/>
<text x="0" y="0" transform="translate(503.00 528.70) rotate(0.04)" font-size="11.2" text-anchor="middle" font-weight="normal" font-style="normal" fill="#1a1a1a" >8</text>
<line x1="507.59" y1="512.50" x2="507.59" y2="514.00" stroke="#333" stroke-width="0.6"/>
<line x1="512.18" y1="512.50" x2="512.18" y2="514.00" stroke="#333" stroke-width="0.6"/>
<line x1="516.77" y1="512.50" x2="516.77" y2="514.00" stroke="#333" stroke-width="0.6"/>
<line x1="521.36" y1="512.50" x2="521.36" y2="514.00" stroke="#333" stroke-width="0.6"/>
<line x1="525.95" y1="512.50" x2="525.95" y2="515.30" stroke="#1a1a1a" stroke-width="0.9"/>
<text x="0" y="0" transform="translate(525.95 528.70) rotate(0.04)" font-size="11.2" text-anchor="middle" font-weight="normal" font-style="normal" fill="#1a1a1a" >9</text>
<line x1="530.54" y1="512.50" x2="530.54" y2="514.00" stroke="#333" stroke-width="0.6"/>
<line x1="535.13" y1="512.50" x2="535.13" y2="514.00" stroke="#333" stroke-width="0.6"/>
<line x1="539.72" y1="512.50" x2="539.72" y2="514.00" stroke="#333" stroke-width="0.6"/>
<line x1="544.31" y1="512.50" x2="544.31" y2="514.00" stroke="#333" stroke-width="0.6"/>
<line x1="548.90" y1="512.50" x2="548.90" y2="515.30" stroke="#1a1a1a" stroke-width="0.9"/>
<text x="0" y="0" transform="translate(548.90 528.70) rotate(0.04)" font-size="11.2" text-anchor="middle" font-weight="normal" font-style="normal" fill="#1a1a1a" >10</text>
<polyline points="319.40,507.10 330.88,494.01 342.35,497.51 353.82,499.51 376.77,501.71 434.15,500.71 548.90,500.11" fill="none" stroke="#2a2a2a" stroke-width="0.65"/>
<polyline points="319.40,510.10 330.88,485.11 342.35,495.71 353.82,493.31 376.77,493.01 434.15,483.31 548.90,476.32" fill="none" stroke="#2a2a2a" stroke-width="0.65"/>
<polyline points="319.40,506.50 330.88,434.94 342.35,432.74 353.82,422.55 376.77,427.54 434.15,406.95 548.90,384.36" fill="none" stroke="#2a2a2a" stroke-width="0.65"/>
<polyline points="319.40,506.90 330.88,466.52 342.35,463.72 353.82,458.73 376.77,454.53 434.15,444.53 548.90,438.54" fill="none" stroke="#2a2a2a" stroke-width="0.65"/>
<polyline points="319.40,506.90 330.88,490.71 342.35,486.31 353.82,476.92 376.77,468.32 434.15,458.73 548.90,438.14" fill="none" stroke="#2a2a2a" stroke-width="0.65"/>
<circle cx="319.40" cy="507.10" r="2.30" fill="#111"/>
<circle cx="330.88" cy="494.01" r="2.30" fill="#111"/>
<circle cx="342.35" cy="497.51" r="2.30" fill="#111"/>
<circle cx="353.82" cy="499.51" r="2.30" fill="#111"/>
<circle cx="376.77" cy="501.71" r="2.30" fill="#111"/>
<circle cx="434.15" cy="500.71" r="2.30" fill="#111"/>
<circle cx="548.90" cy="500.11" r="2.30" fill="#111"/>
<circle cx="319.40" cy="510.10" r="2.10" fill="#fff" stroke="#333" stroke-width="0.7"/>
<circle cx="330.88" cy="485.11" r="2.10" fill="#fff" stroke="#333" stroke-width="0.7"/>
<circle cx="342.35" cy="495.71" r="2.10" fill="#fff" stroke="#333" stroke-width="0.7"/>
<circle cx="353.82" cy="493.31" r="2.10" fill="#fff" stroke="#333" stroke-width="0.7"/>
<circle cx="376.77" cy="493.01" r="2.10" fill="#fff" stroke="#333" stroke-width="0.7"/>
<circle cx="434.15" cy="483.31" r="2.10" fill="#fff" stroke="#333" stroke-width="0.7"/>
<circle cx="548.90" cy="476.32" r="2.10" fill="#fff" stroke="#333" stroke-width="0.7"/>
<path d="M317.00 508.40 L321.80 508.40 L319.40 503.90 Z" fill="#111"/>
<path d="M328.48 436.84 L333.27 436.84 L330.88 432.34 Z" fill="#111"/>
<path d="M339.95 434.64 L344.75 434.64 L342.35 430.14 Z" fill="#111"/>
<path d="M351.43 424.44 L356.22 424.44 L353.82 419.94 Z" fill="#111"/>
<path d="M374.38 429.44 L379.17 429.44 L376.77 424.94 Z" fill="#111"/>
<path d="M431.75 408.85 L436.55 408.85 L434.15 404.35 Z" fill="#111"/>
<path d="M546.50 386.26 L551.30 386.26 L548.90 381.76 Z" fill="#111"/>
<path d="M317.10 508.70 L321.70 508.70 L319.40 504.40 Z" fill="#fff" stroke="#444" stroke-width="0.55"/>
<path d="M328.57 468.32 L333.18 468.32 L330.88 464.02 Z" fill="#fff" stroke="#444" stroke-width="0.55"/>
<path d="M340.05 465.52 L344.65 465.52 L342.35 461.22 Z" fill="#fff" stroke="#444" stroke-width="0.55"/>
<path d="M351.52 460.53 L356.12 460.53 L353.82 456.23 Z" fill="#fff" stroke="#444" stroke-width="0.55"/>
<path d="M374.47 456.33 L379.07 456.33 L376.77 452.03 Z" fill="#fff" stroke="#444" stroke-width="0.55"/>
<path d="M431.85 446.33 L436.45 446.33 L434.15 442.03 Z" fill="#fff" stroke="#444" stroke-width="0.55"/>
<path d="M546.60 440.34 L551.20 440.34 L548.90 436.04 Z" fill="#fff" stroke="#444" stroke-width="0.55"/>
<path d="M317.00 506.90 L319.40 504.50 L321.80 506.90 L319.40 509.30 Z" fill="#111"/>
<path d="M328.48 490.71 L330.88 488.31 L333.27 490.71 L330.88 493.11 Z" fill="#111"/>
<path d="M339.95 486.31 L342.35 483.91 L344.75 486.31 L342.35 488.71 Z" fill="#111"/>
<path d="M351.43 476.92 L353.82 474.52 L356.22 476.92 L353.82 479.32 Z" fill="#111"/>
<path d="M374.38 468.32 L376.77 465.92 L379.17 468.32 L376.77 470.72 Z" fill="#111"/>
<path d="M431.75 458.73 L434.15 456.33 L436.55 458.73 L434.15 461.13 Z" fill="#111"/>
<path d="M546.50 438.14 L548.90 435.74 L551.30 438.14 L548.90 440.54 Z" fill="#111"/>
<text x="0" y="0" transform="translate(434.15 545.00) rotate(0.04)" font-size="11.5" text-anchor="middle" font-weight="normal" font-style="normal" fill="#1a1a1a" >Time (min)</text>
<text x="0" y="0" transform="translate(296.20 442.50) rotate(-90)" font-size="11.5" text-anchor="middle" font-weight="normal" font-style="normal" fill="#1a1a1a" >Glucose-6-phosphate (mM)</text>
<line x1="42.40" y1="563.98" x2="42.40" y2="709.80" stroke="#1a1a1a" stroke-width="1.15"/>
<line x1="39.60" y1="707.00" x2="271.10" y2="707.00" stroke="#2a2a2a" stroke-width="0.9"/>
<text x="0" y="0" transform="translate(35.20 710.47) rotate(0.04)" font-size="11.3" text-anchor="end" font-weight="normal" font-style="normal" fill="#1a1a1a" >0</text>
<line x1="40.80" y1="702.93" x2="42.40" y2="702.93" stroke="#333" stroke-width="0.6"/>
<line x1="40.80" y1="698.86" x2="42.40" y2="698.86" stroke="#333" stroke-width="0.6"/>
<line x1="40.80" y1="694.78" x2="42.40" y2="694.78" stroke="#333" stroke-width="0.6"/>
<line x1="40.80" y1="690.71" x2="42.40" y2="690.71" stroke="#333" stroke-width="0.6"/>
<line x1="39.60" y1="686.64" x2="42.40" y2="686.64" stroke="#1a1a1a" stroke-width="0.9"/>
<text x="0" y="0" transform="translate(35.20 690.11) rotate(0.04)" font-size="11.3" text-anchor="end" font-weight="normal" font-style="normal" fill="#1a1a1a" >1</text>
<line x1="40.80" y1="682.57" x2="42.40" y2="682.57" stroke="#333" stroke-width="0.6"/>
<line x1="40.80" y1="678.50" x2="42.40" y2="678.50" stroke="#333" stroke-width="0.6"/>
<line x1="40.80" y1="674.42" x2="42.40" y2="674.42" stroke="#333" stroke-width="0.6"/>
<line x1="40.80" y1="670.35" x2="42.40" y2="670.35" stroke="#333" stroke-width="0.6"/>
<line x1="39.60" y1="666.28" x2="42.40" y2="666.28" stroke="#1a1a1a" stroke-width="0.9"/>
<text x="0" y="0" transform="translate(35.20 669.75) rotate(0.04)" font-size="11.3" text-anchor="end" font-weight="normal" font-style="normal" fill="#1a1a1a" >2</text>
<line x1="40.80" y1="662.21" x2="42.40" y2="662.21" stroke="#333" stroke-width="0.6"/>
<line x1="40.80" y1="658.14" x2="42.40" y2="658.14" stroke="#333" stroke-width="0.6"/>
<line x1="40.80" y1="654.06" x2="42.40" y2="654.06" stroke="#333" stroke-width="0.6"/>
<line x1="40.80" y1="649.99" x2="42.40" y2="649.99" stroke="#333" stroke-width="0.6"/>
<line x1="39.60" y1="645.92" x2="42.40" y2="645.92" stroke="#1a1a1a" stroke-width="0.9"/>
<text x="0" y="0" transform="translate(35.20 649.39) rotate(0.04)" font-size="11.3" text-anchor="end" font-weight="normal" font-style="normal" fill="#1a1a1a" >3</text>
<line x1="40.80" y1="641.85" x2="42.40" y2="641.85" stroke="#333" stroke-width="0.6"/>
<line x1="40.80" y1="637.78" x2="42.40" y2="637.78" stroke="#333" stroke-width="0.6"/>
<line x1="40.80" y1="633.70" x2="42.40" y2="633.70" stroke="#333" stroke-width="0.6"/>
<line x1="40.80" y1="629.63" x2="42.40" y2="629.63" stroke="#333" stroke-width="0.6"/>
<line x1="39.60" y1="625.56" x2="42.40" y2="625.56" stroke="#1a1a1a" stroke-width="0.9"/>
<text x="0" y="0" transform="translate(35.20 629.03) rotate(0.04)" font-size="11.3" text-anchor="end" font-weight="normal" font-style="normal" fill="#1a1a1a" >4</text>
<line x1="40.80" y1="621.49" x2="42.40" y2="621.49" stroke="#333" stroke-width="0.6"/>
<line x1="40.80" y1="617.42" x2="42.40" y2="617.42" stroke="#333" stroke-width="0.6"/>
<line x1="40.80" y1="613.34" x2="42.40" y2="613.34" stroke="#333" stroke-width="0.6"/>
<line x1="40.80" y1="609.27" x2="42.40" y2="609.27" stroke="#333" stroke-width="0.6"/>
<line x1="39.60" y1="605.20" x2="42.40" y2="605.20" stroke="#1a1a1a" stroke-width="0.9"/>
<text x="0" y="0" transform="translate(35.20 608.67) rotate(0.04)" font-size="11.3" text-anchor="end" font-weight="normal" font-style="normal" fill="#1a1a1a" >5</text>
<line x1="40.80" y1="601.13" x2="42.40" y2="601.13" stroke="#333" stroke-width="0.6"/>
<line x1="40.80" y1="597.06" x2="42.40" y2="597.06" stroke="#333" stroke-width="0.6"/>
<line x1="40.80" y1="592.98" x2="42.40" y2="592.98" stroke="#333" stroke-width="0.6"/>
<line x1="40.80" y1="588.91" x2="42.40" y2="588.91" stroke="#333" stroke-width="0.6"/>
<line x1="39.60" y1="584.84" x2="42.40" y2="584.84" stroke="#1a1a1a" stroke-width="0.9"/>
<text x="0" y="0" transform="translate(35.20 588.31) rotate(0.04)" font-size="11.3" text-anchor="end" font-weight="normal" font-style="normal" fill="#1a1a1a" >6</text>
<line x1="40.80" y1="580.77" x2="42.40" y2="580.77" stroke="#333" stroke-width="0.6"/>
<line x1="40.80" y1="576.70" x2="42.40" y2="576.70" stroke="#333" stroke-width="0.6"/>
<line x1="40.80" y1="572.62" x2="42.40" y2="572.62" stroke="#333" stroke-width="0.6"/>
<line x1="40.80" y1="568.55" x2="42.40" y2="568.55" stroke="#333" stroke-width="0.6"/>
<line x1="39.60" y1="564.48" x2="42.40" y2="564.48" stroke="#1a1a1a" stroke-width="0.9"/>
<text x="0" y="0" transform="translate(35.20 567.95) rotate(0.04)" font-size="11.3" text-anchor="end" font-weight="normal" font-style="normal" fill="#1a1a1a" >7</text>
<text x="0" y="0" transform="translate(42.40 722.50) rotate(0.04)" font-size="11.3" text-anchor="middle" font-weight="normal" font-style="normal" fill="#1a1a1a" >0</text>
<line x1="46.96" y1="707.00" x2="46.96" y2="708.50" stroke="#333" stroke-width="0.6"/>
<line x1="51.53" y1="707.00" x2="51.53" y2="708.50" stroke="#333" stroke-width="0.6"/>
<line x1="56.09" y1="707.00" x2="56.09" y2="708.50" stroke="#333" stroke-width="0.6"/>
<line x1="60.66" y1="707.00" x2="60.66" y2="708.50" stroke="#333" stroke-width="0.6"/>
<line x1="65.22" y1="707.00" x2="65.22" y2="709.80" stroke="#1a1a1a" stroke-width="0.9"/>
<text x="0" y="0" transform="translate(65.22 722.50) rotate(0.04)" font-size="11.3" text-anchor="middle" font-weight="normal" font-style="normal" fill="#1a1a1a" >1</text>
<line x1="69.78" y1="707.00" x2="69.78" y2="708.50" stroke="#333" stroke-width="0.6"/>
<line x1="74.35" y1="707.00" x2="74.35" y2="708.50" stroke="#333" stroke-width="0.6"/>
<line x1="78.91" y1="707.00" x2="78.91" y2="708.50" stroke="#333" stroke-width="0.6"/>
<line x1="83.48" y1="707.00" x2="83.48" y2="708.50" stroke="#333" stroke-width="0.6"/>
<line x1="88.04" y1="707.00" x2="88.04" y2="709.80" stroke="#1a1a1a" stroke-width="0.9"/>
<text x="0" y="0" transform="translate(88.04 722.50) rotate(0.04)" font-size="11.3" text-anchor="middle" font-weight="normal" font-style="normal" fill="#1a1a1a" >2</text>
<line x1="92.60" y1="707.00" x2="92.60" y2="708.50" stroke="#333" stroke-width="0.6"/>
<line x1="97.17" y1="707.00" x2="97.17" y2="708.50" stroke="#333" stroke-width="0.6"/>
<line x1="101.73" y1="707.00" x2="101.73" y2="708.50" stroke="#333" stroke-width="0.6"/>
<line x1="106.30" y1="707.00" x2="106.30" y2="708.50" stroke="#333" stroke-width="0.6"/>
<line x1="110.86" y1="707.00" x2="110.86" y2="709.80" stroke="#1a1a1a" stroke-width="0.9"/>
<text x="0" y="0" transform="translate(110.86 722.50) rotate(0.04)" font-size="11.3" text-anchor="middle" font-weight="normal" font-style="normal" fill="#1a1a1a" >3</text>
<line x1="115.42" y1="707.00" x2="115.42" y2="708.50" stroke="#333" stroke-width="0.6"/>
<line x1="119.99" y1="707.00" x2="119.99" y2="708.50" stroke="#333" stroke-width="0.6"/>
<line x1="124.55" y1="707.00" x2="124.55" y2="708.50" stroke="#333" stroke-width="0.6"/>
<line x1="129.12" y1="707.00" x2="129.12" y2="708.50" stroke="#333" stroke-width="0.6"/>
<line x1="133.68" y1="707.00" x2="133.68" y2="709.80" stroke="#1a1a1a" stroke-width="0.9"/>
<text x="0" y="0" transform="translate(133.68 722.50) rotate(0.04)" font-size="11.3" text-anchor="middle" font-weight="normal" font-style="normal" fill="#1a1a1a" >4</text>
<line x1="138.24" y1="707.00" x2="138.24" y2="708.50" stroke="#333" stroke-width="0.6"/>
<line x1="142.81" y1="707.00" x2="142.81" y2="708.50" stroke="#333" stroke-width="0.6"/>
<line x1="147.37" y1="707.00" x2="147.37" y2="708.50" stroke="#333" stroke-width="0.6"/>
<line x1="151.94" y1="707.00" x2="151.94" y2="708.50" stroke="#333" stroke-width="0.6"/>
<line x1="156.50" y1="707.00" x2="156.50" y2="709.80" stroke="#1a1a1a" stroke-width="0.9"/>
<text x="0" y="0" transform="translate(156.50 722.50) rotate(0.04)" font-size="11.3" text-anchor="middle" font-weight="normal" font-style="normal" fill="#1a1a1a" >5</text>
<line x1="161.06" y1="707.00" x2="161.06" y2="708.50" stroke="#333" stroke-width="0.6"/>
<line x1="165.63" y1="707.00" x2="165.63" y2="708.50" stroke="#333" stroke-width="0.6"/>
<line x1="170.19" y1="707.00" x2="170.19" y2="708.50" stroke="#333" stroke-width="0.6"/>
<line x1="174.76" y1="707.00" x2="174.76" y2="708.50" stroke="#333" stroke-width="0.6"/>
<line x1="179.32" y1="707.00" x2="179.32" y2="709.80" stroke="#1a1a1a" stroke-width="0.9"/>
<text x="0" y="0" transform="translate(179.32 722.50) rotate(0.04)" font-size="11.3" text-anchor="middle" font-weight="normal" font-style="normal" fill="#1a1a1a" >6</text>
<line x1="183.88" y1="707.00" x2="183.88" y2="708.50" stroke="#333" stroke-width="0.6"/>
<line x1="188.45" y1="707.00" x2="188.45" y2="708.50" stroke="#333" stroke-width="0.6"/>
<line x1="193.01" y1="707.00" x2="193.01" y2="708.50" stroke="#333" stroke-width="0.6"/>
<line x1="197.58" y1="707.00" x2="197.58" y2="708.50" stroke="#333" stroke-width="0.6"/>
<line x1="202.14" y1="707.00" x2="202.14" y2="709.80" stroke="#1a1a1a" stroke-width="0.9"/>
<text x="0" y="0" transform="translate(202.14 722.50) rotate(0.04)" font-size="11.3" text-anchor="middle" font-weight="normal" font-style="normal" fill="#1a1a1a" >7</text>
<line x1="206.70" y1="707.00" x2="206.70" y2="708.50" stroke="#333" stroke-width="0.6"/>
<line x1="211.27" y1="707.00" x2="211.27" y2="708.50" stroke="#333" stroke-width="0.6"/>
<line x1="215.83" y1="707.00" x2="215.83" y2="708.50" stroke="#333" stroke-width="0.6"/>
<line x1="220.40" y1="707.00" x2="220.40" y2="708.50" stroke="#333" stroke-width="0.6"/>
<line x1="224.96" y1="707.00" x2="224.96" y2="709.80" stroke="#1a1a1a" stroke-width="0.9"/>
<text x="0" y="0" transform="translate(224.96 722.50) rotate(0.04)" font-size="11.3" text-anchor="middle" font-weight="normal" font-style="normal" fill="#1a1a1a" >8</text>
<line x1="229.52" y1="707.00" x2="229.52" y2="708.50" stroke="#333" stroke-width="0.6"/>
<line x1="234.09" y1="707.00" x2="234.09" y2="708.50" stroke="#333" stroke-width="0.6"/>
<line x1="238.65" y1="707.00" x2="238.65" y2="708.50" stroke="#333" stroke-width="0.6"/>
<line x1="243.22" y1="707.00" x2="243.22" y2="708.50" stroke="#333" stroke-width="0.6"/>
<line x1="247.78" y1="707.00" x2="247.78" y2="709.80" stroke="#1a1a1a" stroke-width="0.9"/>
<text x="0" y="0" transform="translate(247.78 722.50) rotate(0.04)" font-size="11.3" text-anchor="middle" font-weight="normal" font-style="normal" fill="#1a1a1a" >9</text>
<line x1="252.34" y1="707.00" x2="252.34" y2="708.50" stroke="#333" stroke-width="0.6"/>
<line x1="256.91" y1="707.00" x2="256.91" y2="708.50" stroke="#333" stroke-width="0.6"/>
<line x1="261.47" y1="707.00" x2="261.47" y2="708.50" stroke="#333" stroke-width="0.6"/>
<line x1="266.04" y1="707.00" x2="266.04" y2="708.50" stroke="#333" stroke-width="0.6"/>
<line x1="270.60" y1="707.00" x2="270.60" y2="709.80" stroke="#1a1a1a" stroke-width="0.9"/>
<text x="0" y="0" transform="translate(270.60 722.50) rotate(0.04)" font-size="11.3" text-anchor="middle" font-weight="normal" font-style="normal" fill="#1a1a1a" >10</text>
<polyline points="42.40,682.67 53.81,676.77 65.22,676.15 76.63,677.17 99.45,676.97 156.50,672.90 270.60,683.08" fill="none" stroke="#2a2a2a" stroke-width="0.65"/>
<polyline points="42.40,685.11 53.81,662.92 65.22,659.87 76.63,645.61 99.45,641.75 156.50,617.92 270.60,582.09" fill="none" stroke="#2a2a2a" stroke-width="0.65"/>
<polyline points="42.40,690.20 53.81,691.22 65.22,696.31 76.63,691.22 99.45,692.85 156.50,695.70 270.60,694.07" fill="none" stroke="#2a2a2a" stroke-width="0.65"/>
<polyline points="42.40,687.15 53.81,687.15 65.22,687.56 76.63,687.56 99.45,687.56 156.50,688.98 270.60,690.41" fill="none" stroke="#2a2a2a" stroke-width="0.65"/>
<polyline points="42.40,690.41 53.81,692.44 65.22,696.92 76.63,691.83 99.45,691.63 156.50,691.42 270.60,691.83" fill="none" stroke="#2a2a2a" stroke-width="0.65"/>
<circle cx="42.40" cy="682.67" r="2.30" fill="#111"/>
<circle cx="53.81" cy="676.77" r="2.30" fill="#111"/>
<circle cx="65.22" cy="676.15" r="2.30" fill="#111"/>
<circle cx="76.63" cy="677.17" r="2.30" fill="#111"/>
<circle cx="99.45" cy="676.97" r="2.30" fill="#111"/>
<circle cx="156.50" cy="672.90" r="2.30" fill="#111"/>
<circle cx="270.60" cy="683.08" r="2.30" fill="#111"/>
<circle cx="42.40" cy="685.11" r="2.10" fill="#fff" stroke="#333" stroke-width="0.7"/>
<circle cx="53.81" cy="662.92" r="2.10" fill="#fff" stroke="#333" stroke-width="0.7"/>
<circle cx="65.22" cy="659.87" r="2.10" fill="#fff" stroke="#333" stroke-width="0.7"/>
<circle cx="76.63" cy="645.61" r="2.10" fill="#fff" stroke="#333" stroke-width="0.7"/>
<circle cx="99.45" cy="641.75" r="2.10" fill="#fff" stroke="#333" stroke-width="0.7"/>
<circle cx="156.50" cy="617.92" r="2.10" fill="#fff" stroke="#333" stroke-width="0.7"/>
<circle cx="270.60" cy="582.09" r="2.10" fill="#fff" stroke="#333" stroke-width="0.7"/>
<path d="M40.00 692.10 L44.80 692.10 L42.40 687.60 Z" fill="#111"/>
<path d="M51.41 693.12 L56.21 693.12 L53.81 688.62 Z" fill="#111"/>
<path d="M62.82 698.21 L67.62 698.21 L65.22 693.71 Z" fill="#111"/>
<path d="M74.23 693.12 L79.03 693.12 L76.63 688.62 Z" fill="#111"/>
<path d="M97.05 694.75 L101.85 694.75 L99.45 690.25 Z" fill="#111"/>
<path d="M154.10 697.60 L158.90 697.60 L156.50 693.10 Z" fill="#111"/>
<path d="M268.20 695.97 L273.00 695.97 L270.60 691.47 Z" fill="#111"/>
<path d="M40.10 688.95 L44.70 688.95 L42.40 684.65 Z" fill="#fff" stroke="#444" stroke-width="0.55"/>
<path d="M51.51 688.95 L56.11 688.95 L53.81 684.65 Z" fill="#fff" stroke="#444" stroke-width="0.55"/>
<path d="M62.92 689.36 L67.52 689.36 L65.22 685.06 Z" fill="#fff" stroke="#444" stroke-width="0.55"/>
<path d="M74.33 689.36 L78.93 689.36 L76.63 685.06 Z" fill="#fff" stroke="#444" stroke-width="0.55"/>
<path d="M97.15 689.36 L101.75 689.36 L99.45 685.06 Z" fill="#fff" stroke="#444" stroke-width="0.55"/>
<path d="M154.20 690.78 L158.80 690.78 L156.50 686.48 Z" fill="#fff" stroke="#444" stroke-width="0.55"/>
<path d="M268.30 692.21 L272.90 692.21 L270.60 687.91 Z" fill="#fff" stroke="#444" stroke-width="0.55"/>
<path d="M40.00 690.41 L42.40 688.01 L44.80 690.41 L42.40 692.81 Z" fill="#111"/>
<path d="M51.41 692.44 L53.81 690.04 L56.21 692.44 L53.81 694.84 Z" fill="#111"/>
<path d="M62.82 696.92 L65.22 694.52 L67.62 696.92 L65.22 699.32 Z" fill="#111"/>
<path d="M74.23 691.83 L76.63 689.43 L79.03 691.83 L76.63 694.23 Z" fill="#111"/>
<path d="M97.05 691.63 L99.45 689.23 L101.85 691.63 L99.45 694.03 Z" fill="#111"/>
<path d="M154.10 691.42 L156.50 689.02 L158.90 691.42 L156.50 693.82 Z" fill="#111"/>
<path d="M268.20 691.83 L270.60 689.43 L273.00 691.83 L270.60 694.23 Z" fill="#111"/>
<text x="0" y="0" transform="translate(156.50 738.90) rotate(0.04)" font-size="11.5" text-anchor="middle" font-weight="normal" font-style="normal" fill="#1a1a1a" >Time (min)</text>
<text x="0" y="0" transform="translate(18.30 636.00) rotate(-90)" font-size="11.5" text-anchor="middle" font-weight="normal" font-style="normal" fill="#1a1a1a" >Fructose-1,6-phosphate (mM)</text>
<circle cx="289.30" cy="566.30" r="2.64" fill="#111"/>
<text x="0" y="0" transform="translate(297.80 568.90) rotate(0.04)" font-size="9.8" text-anchor="start" font-weight="normal" font-style="normal" fill="#1a1a1a" >Wild-type</text>
<circle cx="289.30" cy="579.60" r="2.10" fill="#fff" stroke="#333" stroke-width="0.7"/>
<text x="0" y="0" transform="translate(297.80 582.20) rotate(0.04)" font-size="9.8" text-anchor="start" font-weight="normal" font-style="normal" fill="#1a1a1a" ><tspan font-style="italic">tps1</tspan>Δ</text>
<path d="M286.54 594.88 L292.06 594.88 L289.30 589.71 Z" fill="#111"/>
<text x="0" y="0" transform="translate(297.80 595.30) rotate(0.04)" font-size="9.8" text-anchor="start" font-weight="normal" font-style="normal" fill="#1a1a1a" ><tspan font-style="italic">tps1</tspan>Δ <tspan font-style="italic">pfk1</tspan>Δ</text>
<path d="M286.77 607.58 L291.83 607.58 L289.30 602.85 Z" fill="#fff" stroke="#444" stroke-width="0.55"/>
<text x="0" y="0" transform="translate(297.80 608.20) rotate(0.04)" font-size="9.8" text-anchor="start" font-weight="normal" font-style="normal" fill="#1a1a1a" ><tspan font-style="italic">tps1</tspan>Δ <tspan font-style="italic">pfk2</tspan>Δ</text>
<path d="M286.06 618.60 L289.30 615.36 L292.54 618.60 L289.30 621.84 Z" fill="#111"/>
<text x="0" y="0" transform="translate(297.80 621.20) rotate(0.04)" font-size="9.8" text-anchor="start" font-weight="normal" font-style="normal" fill="#1a1a1a" ><tspan font-style="italic">tps1</tspan>Δ <tspan font-style="italic">pfk1</tspan>Δ <tspan font-style="italic">pfk2</tspan>Δ</text>
</svg>
</body></html>
